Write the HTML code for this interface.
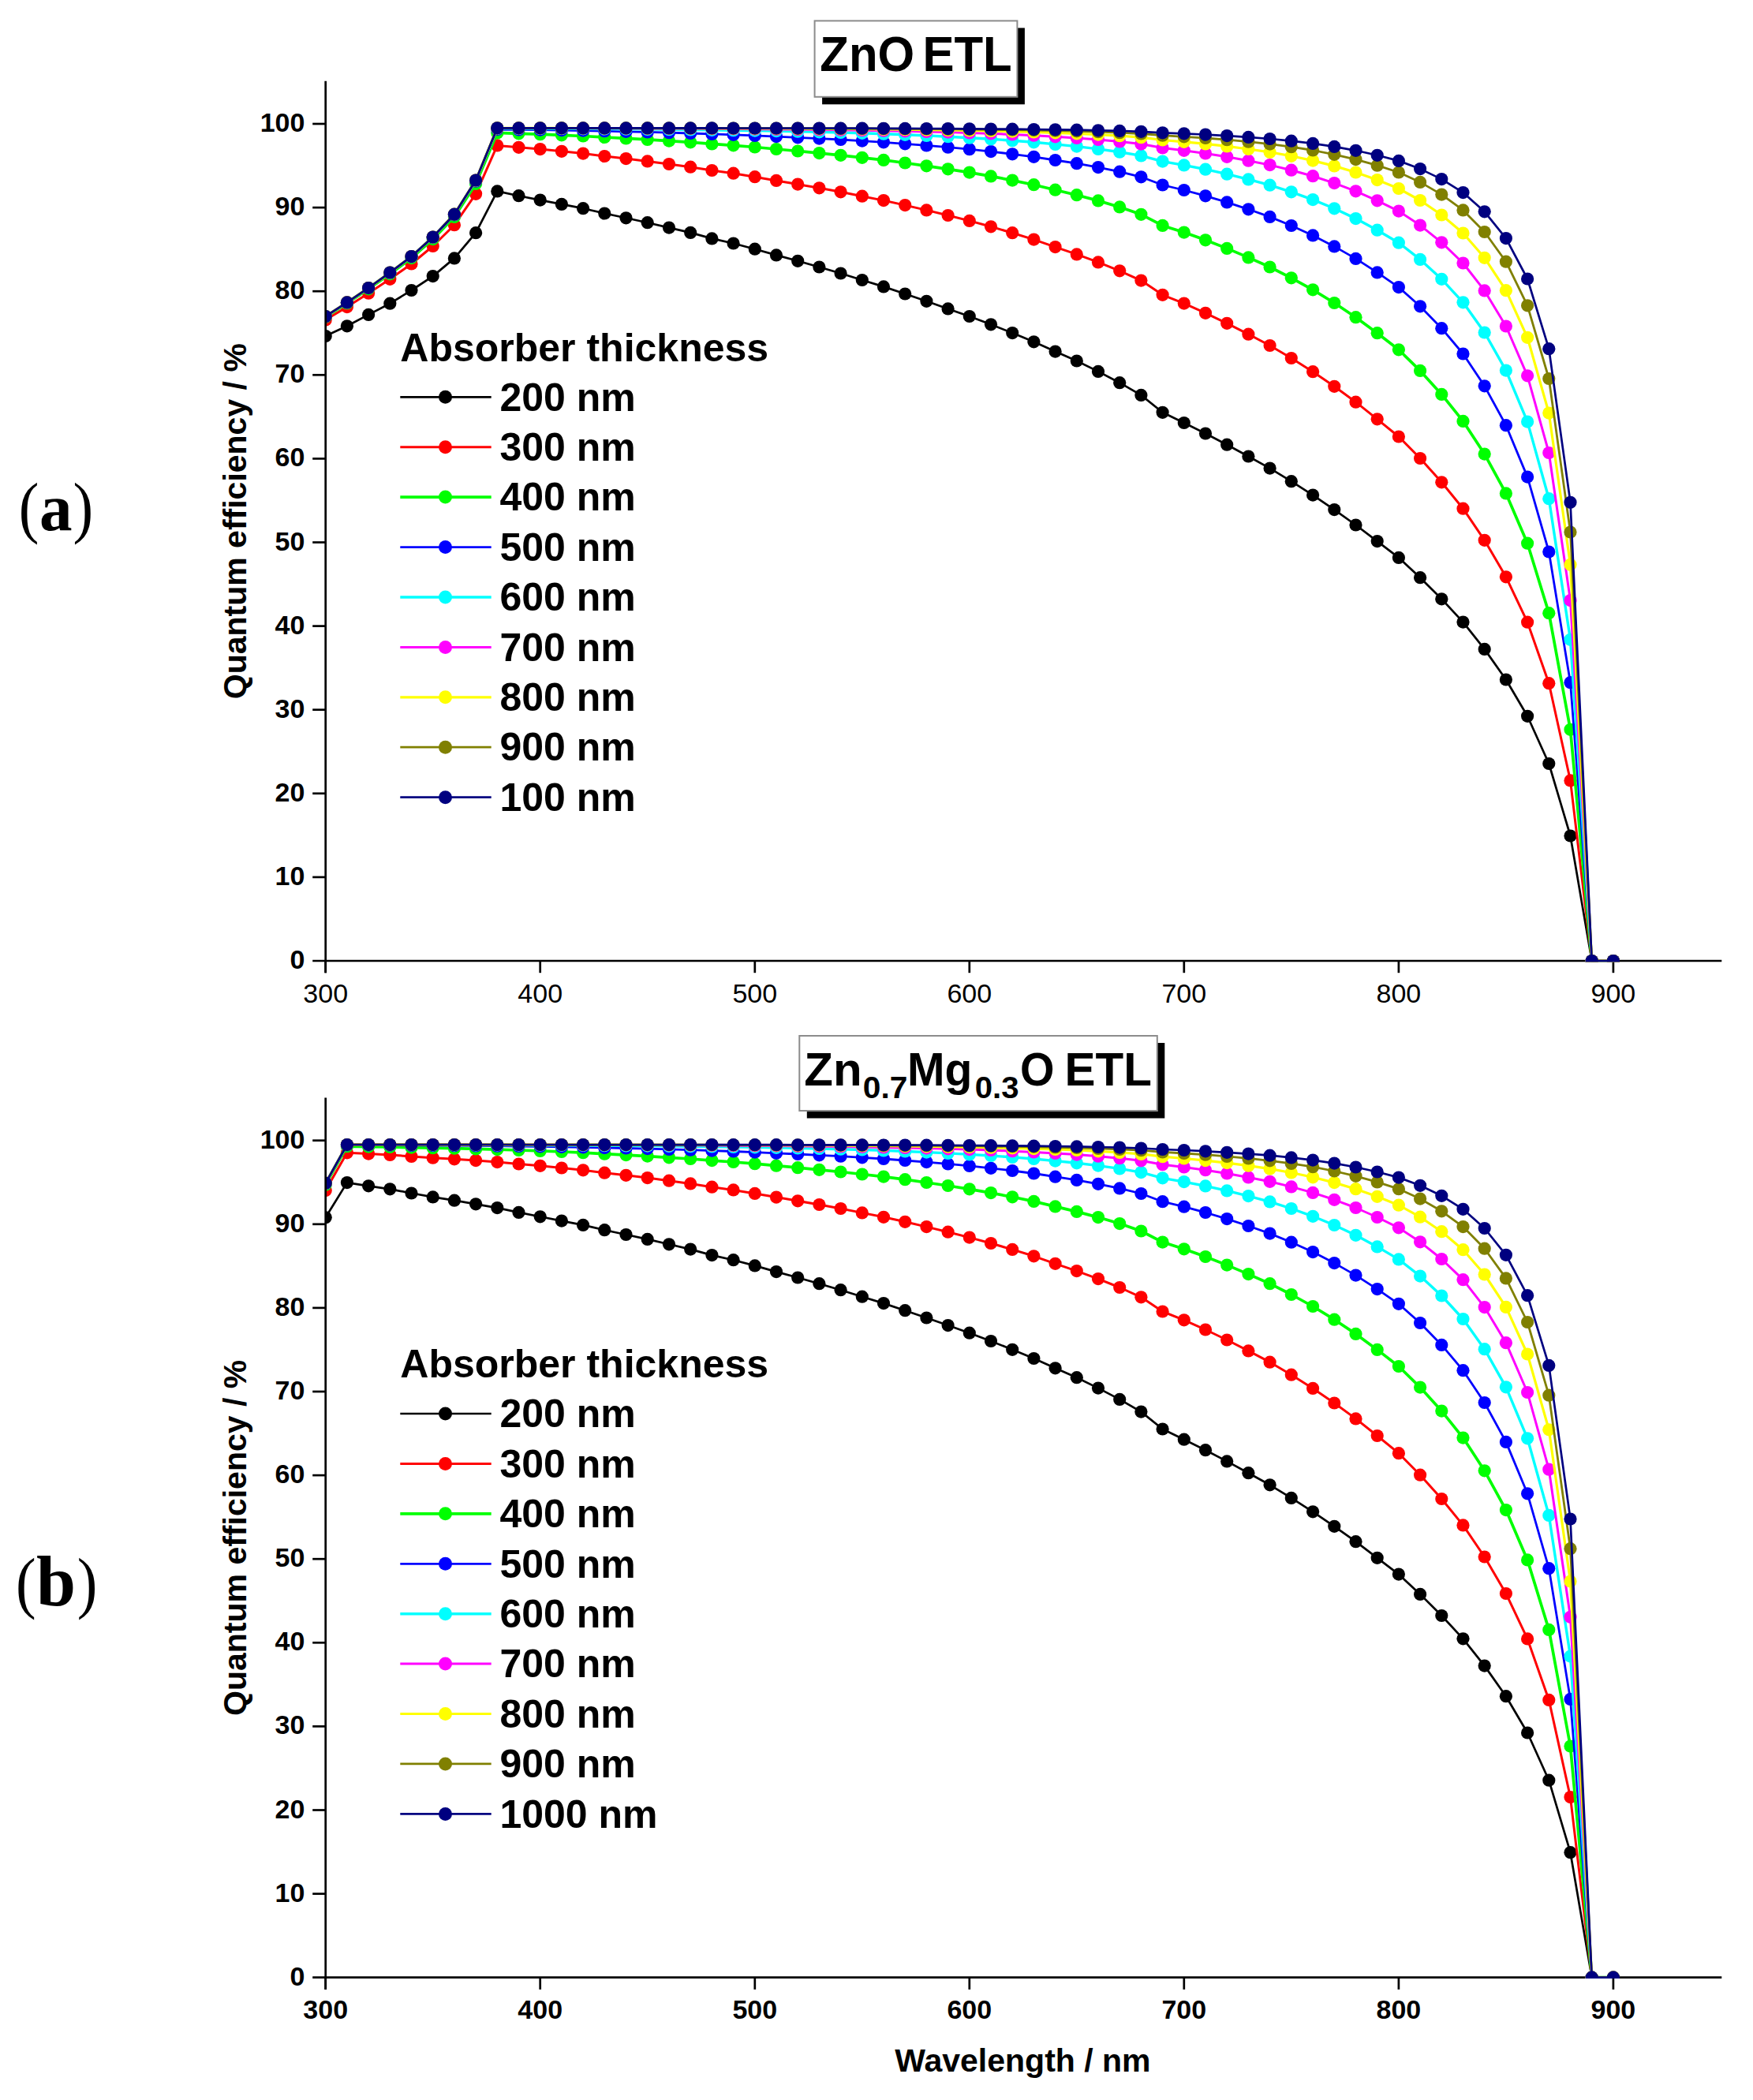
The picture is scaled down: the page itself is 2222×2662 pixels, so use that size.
<!DOCTYPE html>
<html><head><meta charset="utf-8"><title>Quantum efficiency vs wavelength</title>
<style>
html,body{margin:0;padding:0;background:#fff;}
body{width:2222px;height:2662px;overflow:hidden;}
svg{display:block;font-family:"Liberation Sans",Arial,Helvetica,sans-serif;}
</style></head><body>
<svg width="2222" height="2662" viewBox="0 0 2222 2662">
<rect width="2222" height="2662" fill="#fff"/>
<clipPath id="clipa"><rect x="414.05" y="82.8" width="1769.6" height="1136.55"/></clipPath>
<g stroke="#000" stroke-width="2.7" fill="none">
<line x1="396.2" y1="1218.0" x2="2182.3" y2="1218.0"/>
<line x1="412.7" y1="1218.0" x2="412.7" y2="1233.2"/>
<line x1="684.7" y1="1218.0" x2="684.7" y2="1233.2"/>
<line x1="956.8" y1="1218.0" x2="956.8" y2="1233.2"/>
<line x1="1228.8" y1="1218.0" x2="1228.8" y2="1233.2"/>
<line x1="1500.8" y1="1218.0" x2="1500.8" y2="1233.2"/>
<line x1="1772.9" y1="1218.0" x2="1772.9" y2="1233.2"/>
<line x1="2044.9" y1="1218.0" x2="2044.9" y2="1233.2"/>
</g>
<g clip-path="url(#clipa)">
<polyline points="412.7,425.9 439.9,413.3 467.1,398.9 494.3,384.7 521.5,368.0 548.7,350.1 575.9,327.4 603.1,295.2 630.3,242.4 657.5,248.2 684.7,253.6 711.9,258.9 739.1,264.2 766.3,270.5 793.5,276.3 820.7,282.2 848.0,288.6 875.2,294.9 902.4,302.4 929.6,308.5 956.8,315.7 984.0,323.4 1011.2,330.8 1038.4,338.5 1065.6,346.5 1092.8,355.0 1120.0,363.4 1147.2,372.5 1174.4,381.8 1201.6,391.4 1228.8,401.0 1256.0,411.3 1283.2,422.1 1310.4,433.3 1337.6,445.6 1364.8,457.5 1392.0,470.9 1419.2,485.2 1446.4,500.9 1473.6,522.8 1500.8,536.0 1528.0,549.5 1555.2,563.7 1582.4,578.5 1609.6,593.6 1636.8,610.2 1664.1,627.6 1691.3,646.1 1718.5,665.5 1745.7,686.1 1772.9,706.9 1800.1,732.2 1827.3,759.3 1854.5,788.6 1881.7,822.9 1908.9,861.5 1936.1,907.8 1963.3,968.0 1990.5,1059.5 2017.7,1218.0 2044.9,1218.0" fill="none" stroke="#000000" stroke-width="2.7" stroke-linejoin="round"/>
<g fill="#000000"><circle cx="412.7" cy="425.9" r="8.1"/><circle cx="439.9" cy="413.3" r="8.1"/><circle cx="467.1" cy="398.9" r="8.1"/><circle cx="494.3" cy="384.7" r="8.1"/><circle cx="521.5" cy="368.0" r="8.1"/><circle cx="548.7" cy="350.1" r="8.1"/><circle cx="575.9" cy="327.4" r="8.1"/><circle cx="603.1" cy="295.2" r="8.1"/><circle cx="630.3" cy="242.4" r="8.1"/><circle cx="657.5" cy="248.2" r="8.1"/><circle cx="684.7" cy="253.6" r="8.1"/><circle cx="711.9" cy="258.9" r="8.1"/><circle cx="739.1" cy="264.2" r="8.1"/><circle cx="766.3" cy="270.5" r="8.1"/><circle cx="793.5" cy="276.3" r="8.1"/><circle cx="820.7" cy="282.2" r="8.1"/><circle cx="848.0" cy="288.6" r="8.1"/><circle cx="875.2" cy="294.9" r="8.1"/><circle cx="902.4" cy="302.4" r="8.1"/><circle cx="929.6" cy="308.5" r="8.1"/><circle cx="956.8" cy="315.7" r="8.1"/><circle cx="984.0" cy="323.4" r="8.1"/><circle cx="1011.2" cy="330.8" r="8.1"/><circle cx="1038.4" cy="338.5" r="8.1"/><circle cx="1065.6" cy="346.5" r="8.1"/><circle cx="1092.8" cy="355.0" r="8.1"/><circle cx="1120.0" cy="363.4" r="8.1"/><circle cx="1147.2" cy="372.5" r="8.1"/><circle cx="1174.4" cy="381.8" r="8.1"/><circle cx="1201.6" cy="391.4" r="8.1"/><circle cx="1228.8" cy="401.0" r="8.1"/><circle cx="1256.0" cy="411.3" r="8.1"/><circle cx="1283.2" cy="422.1" r="8.1"/><circle cx="1310.4" cy="433.3" r="8.1"/><circle cx="1337.6" cy="445.6" r="8.1"/><circle cx="1364.8" cy="457.5" r="8.1"/><circle cx="1392.0" cy="470.9" r="8.1"/><circle cx="1419.2" cy="485.2" r="8.1"/><circle cx="1446.4" cy="500.9" r="8.1"/><circle cx="1473.6" cy="522.8" r="8.1"/><circle cx="1500.8" cy="536.0" r="8.1"/><circle cx="1528.0" cy="549.5" r="8.1"/><circle cx="1555.2" cy="563.7" r="8.1"/><circle cx="1582.4" cy="578.5" r="8.1"/><circle cx="1609.6" cy="593.6" r="8.1"/><circle cx="1636.8" cy="610.2" r="8.1"/><circle cx="1664.1" cy="627.6" r="8.1"/><circle cx="1691.3" cy="646.1" r="8.1"/><circle cx="1718.5" cy="665.5" r="8.1"/><circle cx="1745.7" cy="686.1" r="8.1"/><circle cx="1772.9" cy="706.9" r="8.1"/><circle cx="1800.1" cy="732.2" r="8.1"/><circle cx="1827.3" cy="759.3" r="8.1"/><circle cx="1854.5" cy="788.6" r="8.1"/><circle cx="1881.7" cy="822.9" r="8.1"/><circle cx="1908.9" cy="861.5" r="8.1"/><circle cx="1936.1" cy="907.8" r="8.1"/><circle cx="1963.3" cy="968.0" r="8.1"/><circle cx="1990.5" cy="1059.5" r="8.1"/><circle cx="2017.7" cy="1218.0" r="8.1"/><circle cx="2044.9" cy="1218.0" r="8.1"/></g>
<polyline points="412.7,405.4 439.9,389.1 467.1,371.7 494.3,353.8 521.5,334.5 548.7,312.0 575.9,285.2 603.1,245.8 630.3,184.4 657.5,186.8 684.7,189.1 711.9,191.8 739.1,194.6 766.3,198.0 793.5,201.1 820.7,204.4 848.0,208.0 875.2,211.7 902.4,216.0 929.6,219.7 956.8,224.2 984.0,228.9 1011.2,233.6 1038.4,238.3 1065.6,243.3 1092.8,248.7 1120.0,254.1 1147.2,260.1 1174.4,266.4 1201.6,273.0 1228.8,279.9 1256.0,287.3 1283.2,295.2 1310.4,303.6 1337.6,313.1 1364.8,322.4 1392.0,332.4 1419.2,343.3 1446.4,355.6 1473.6,373.8 1500.8,384.6 1528.0,396.8 1555.2,409.8 1582.4,423.7 1609.6,438.0 1636.8,454.0 1664.1,471.2 1691.3,489.8 1718.5,509.7 1745.7,531.3 1772.9,553.5 1800.1,581.0 1827.3,611.3 1854.5,644.7 1881.7,684.8 1908.9,731.3 1936.1,788.7 1963.3,866.2 1990.5,989.4 2017.7,1218.0 2044.9,1218.0" fill="none" stroke="#ff0000" stroke-width="3.0" stroke-linejoin="round"/>
<g fill="#ff0000"><circle cx="412.7" cy="405.4" r="8.1"/><circle cx="439.9" cy="389.1" r="8.1"/><circle cx="467.1" cy="371.7" r="8.1"/><circle cx="494.3" cy="353.8" r="8.1"/><circle cx="521.5" cy="334.5" r="8.1"/><circle cx="548.7" cy="312.0" r="8.1"/><circle cx="575.9" cy="285.2" r="8.1"/><circle cx="603.1" cy="245.8" r="8.1"/><circle cx="630.3" cy="184.4" r="8.1"/><circle cx="657.5" cy="186.8" r="8.1"/><circle cx="684.7" cy="189.1" r="8.1"/><circle cx="711.9" cy="191.8" r="8.1"/><circle cx="739.1" cy="194.6" r="8.1"/><circle cx="766.3" cy="198.0" r="8.1"/><circle cx="793.5" cy="201.1" r="8.1"/><circle cx="820.7" cy="204.4" r="8.1"/><circle cx="848.0" cy="208.0" r="8.1"/><circle cx="875.2" cy="211.7" r="8.1"/><circle cx="902.4" cy="216.0" r="8.1"/><circle cx="929.6" cy="219.7" r="8.1"/><circle cx="956.8" cy="224.2" r="8.1"/><circle cx="984.0" cy="228.9" r="8.1"/><circle cx="1011.2" cy="233.6" r="8.1"/><circle cx="1038.4" cy="238.3" r="8.1"/><circle cx="1065.6" cy="243.3" r="8.1"/><circle cx="1092.8" cy="248.7" r="8.1"/><circle cx="1120.0" cy="254.1" r="8.1"/><circle cx="1147.2" cy="260.1" r="8.1"/><circle cx="1174.4" cy="266.4" r="8.1"/><circle cx="1201.6" cy="273.0" r="8.1"/><circle cx="1228.8" cy="279.9" r="8.1"/><circle cx="1256.0" cy="287.3" r="8.1"/><circle cx="1283.2" cy="295.2" r="8.1"/><circle cx="1310.4" cy="303.6" r="8.1"/><circle cx="1337.6" cy="313.1" r="8.1"/><circle cx="1364.8" cy="322.4" r="8.1"/><circle cx="1392.0" cy="332.4" r="8.1"/><circle cx="1419.2" cy="343.3" r="8.1"/><circle cx="1446.4" cy="355.6" r="8.1"/><circle cx="1473.6" cy="373.8" r="8.1"/><circle cx="1500.8" cy="384.6" r="8.1"/><circle cx="1528.0" cy="396.8" r="8.1"/><circle cx="1555.2" cy="409.8" r="8.1"/><circle cx="1582.4" cy="423.7" r="8.1"/><circle cx="1609.6" cy="438.0" r="8.1"/><circle cx="1636.8" cy="454.0" r="8.1"/><circle cx="1664.1" cy="471.2" r="8.1"/><circle cx="1691.3" cy="489.8" r="8.1"/><circle cx="1718.5" cy="509.7" r="8.1"/><circle cx="1745.7" cy="531.3" r="8.1"/><circle cx="1772.9" cy="553.5" r="8.1"/><circle cx="1800.1" cy="581.0" r="8.1"/><circle cx="1827.3" cy="611.3" r="8.1"/><circle cx="1854.5" cy="644.7" r="8.1"/><circle cx="1881.7" cy="684.8" r="8.1"/><circle cx="1908.9" cy="731.3" r="8.1"/><circle cx="1936.1" cy="788.7" r="8.1"/><circle cx="1963.3" cy="866.2" r="8.1"/><circle cx="1990.5" cy="989.4" r="8.1"/><circle cx="2017.7" cy="1218.0" r="8.1"/><circle cx="2044.9" cy="1218.0" r="8.1"/></g>
<polyline points="412.7,401.8 439.9,384.5 467.1,366.3 494.3,347.3 521.5,327.1 548.7,303.1 575.9,275.0 603.1,233.0 630.3,168.4 657.5,169.3 684.7,170.2 711.9,171.3 739.1,172.5 766.3,174.0 793.5,175.4 820.7,176.9 848.0,178.6 875.2,180.3 902.4,182.4 929.6,184.3 956.8,186.5 984.0,189.0 1011.2,191.5 1038.4,194.1 1065.6,196.8 1092.8,199.8 1120.0,202.9 1147.2,206.5 1174.4,210.3 1201.6,214.3 1228.8,218.6 1256.0,223.4 1283.2,228.6 1310.4,234.2 1337.6,240.7 1364.8,247.2 1392.0,254.4 1419.2,262.4 1446.4,271.8 1473.6,285.9 1500.8,294.6 1528.0,304.3 1555.2,314.9 1582.4,326.4 1609.6,338.5 1636.8,352.3 1664.1,367.3 1691.3,384.0 1718.5,402.2 1745.7,422.2 1772.9,443.3 1800.1,469.9 1827.3,499.9 1854.5,533.9 1881.7,575.6 1908.9,625.4 1936.1,688.7 1963.3,777.2 1990.5,924.8 2017.7,1218.0 2044.9,1218.0" fill="none" stroke="#00ff00" stroke-width="3.7" stroke-linejoin="round"/>
<g fill="#00ff00"><circle cx="412.7" cy="401.8" r="8.1"/><circle cx="439.9" cy="384.5" r="8.1"/><circle cx="467.1" cy="366.3" r="8.1"/><circle cx="494.3" cy="347.3" r="8.1"/><circle cx="521.5" cy="327.1" r="8.1"/><circle cx="548.7" cy="303.1" r="8.1"/><circle cx="575.9" cy="275.0" r="8.1"/><circle cx="603.1" cy="233.0" r="8.1"/><circle cx="630.3" cy="168.4" r="8.1"/><circle cx="657.5" cy="169.3" r="8.1"/><circle cx="684.7" cy="170.2" r="8.1"/><circle cx="711.9" cy="171.3" r="8.1"/><circle cx="739.1" cy="172.5" r="8.1"/><circle cx="766.3" cy="174.0" r="8.1"/><circle cx="793.5" cy="175.4" r="8.1"/><circle cx="820.7" cy="176.9" r="8.1"/><circle cx="848.0" cy="178.6" r="8.1"/><circle cx="875.2" cy="180.3" r="8.1"/><circle cx="902.4" cy="182.4" r="8.1"/><circle cx="929.6" cy="184.3" r="8.1"/><circle cx="956.8" cy="186.5" r="8.1"/><circle cx="984.0" cy="189.0" r="8.1"/><circle cx="1011.2" cy="191.5" r="8.1"/><circle cx="1038.4" cy="194.1" r="8.1"/><circle cx="1065.6" cy="196.8" r="8.1"/><circle cx="1092.8" cy="199.8" r="8.1"/><circle cx="1120.0" cy="202.9" r="8.1"/><circle cx="1147.2" cy="206.5" r="8.1"/><circle cx="1174.4" cy="210.3" r="8.1"/><circle cx="1201.6" cy="214.3" r="8.1"/><circle cx="1228.8" cy="218.6" r="8.1"/><circle cx="1256.0" cy="223.4" r="8.1"/><circle cx="1283.2" cy="228.6" r="8.1"/><circle cx="1310.4" cy="234.2" r="8.1"/><circle cx="1337.6" cy="240.7" r="8.1"/><circle cx="1364.8" cy="247.2" r="8.1"/><circle cx="1392.0" cy="254.4" r="8.1"/><circle cx="1419.2" cy="262.4" r="8.1"/><circle cx="1446.4" cy="271.8" r="8.1"/><circle cx="1473.6" cy="285.9" r="8.1"/><circle cx="1500.8" cy="294.6" r="8.1"/><circle cx="1528.0" cy="304.3" r="8.1"/><circle cx="1555.2" cy="314.9" r="8.1"/><circle cx="1582.4" cy="326.4" r="8.1"/><circle cx="1609.6" cy="338.5" r="8.1"/><circle cx="1636.8" cy="352.3" r="8.1"/><circle cx="1664.1" cy="367.3" r="8.1"/><circle cx="1691.3" cy="384.0" r="8.1"/><circle cx="1718.5" cy="402.2" r="8.1"/><circle cx="1745.7" cy="422.2" r="8.1"/><circle cx="1772.9" cy="443.3" r="8.1"/><circle cx="1800.1" cy="469.9" r="8.1"/><circle cx="1827.3" cy="499.9" r="8.1"/><circle cx="1854.5" cy="533.9" r="8.1"/><circle cx="1881.7" cy="575.6" r="8.1"/><circle cx="1908.9" cy="625.4" r="8.1"/><circle cx="1936.1" cy="688.7" r="8.1"/><circle cx="1963.3" cy="777.2" r="8.1"/><circle cx="1990.5" cy="924.8" r="8.1"/><circle cx="2017.7" cy="1218.0" r="8.1"/><circle cx="2044.9" cy="1218.0" r="8.1"/></g>
<polyline points="412.7,401.2 439.9,383.6 467.1,365.2 494.3,345.9 521.5,325.5 548.7,301.1 575.9,272.5 603.1,229.7 630.3,164.0 657.5,164.3 684.7,164.6 711.9,165.1 739.1,165.6 766.3,166.2 793.5,166.8 820.7,167.4 848.0,168.2 875.2,169.0 902.4,169.9 929.6,170.8 956.8,171.9 984.0,173.1 1011.2,174.3 1038.4,175.6 1065.6,177.0 1092.8,178.6 1120.0,180.3 1147.2,182.3 1174.4,184.4 1201.6,186.7 1228.8,189.2 1256.0,192.1 1283.2,195.3 1310.4,198.8 1337.6,203.0 1364.8,207.2 1392.0,212.1 1419.2,217.7 1446.4,224.3 1473.6,234.5 1500.8,241.0 1528.0,248.3 1555.2,256.4 1582.4,265.3 1609.6,274.9 1636.8,286.0 1664.1,298.4 1691.3,312.4 1718.5,327.9 1745.7,345.4 1772.9,364.1 1800.1,388.3 1827.3,416.2 1854.5,448.5 1881.7,489.3 1908.9,539.2 1936.1,604.6 1963.3,699.5 1990.5,865.2 2017.7,1218.0 2044.9,1218.0" fill="none" stroke="#0000ff" stroke-width="2.8" stroke-linejoin="round"/>
<g fill="#0000ff"><circle cx="412.7" cy="401.2" r="8.1"/><circle cx="439.9" cy="383.6" r="8.1"/><circle cx="467.1" cy="365.2" r="8.1"/><circle cx="494.3" cy="345.9" r="8.1"/><circle cx="521.5" cy="325.5" r="8.1"/><circle cx="548.7" cy="301.1" r="8.1"/><circle cx="575.9" cy="272.5" r="8.1"/><circle cx="603.1" cy="229.7" r="8.1"/><circle cx="630.3" cy="164.0" r="8.1"/><circle cx="657.5" cy="164.3" r="8.1"/><circle cx="684.7" cy="164.6" r="8.1"/><circle cx="711.9" cy="165.1" r="8.1"/><circle cx="739.1" cy="165.6" r="8.1"/><circle cx="766.3" cy="166.2" r="8.1"/><circle cx="793.5" cy="166.8" r="8.1"/><circle cx="820.7" cy="167.4" r="8.1"/><circle cx="848.0" cy="168.2" r="8.1"/><circle cx="875.2" cy="169.0" r="8.1"/><circle cx="902.4" cy="169.9" r="8.1"/><circle cx="929.6" cy="170.8" r="8.1"/><circle cx="956.8" cy="171.9" r="8.1"/><circle cx="984.0" cy="173.1" r="8.1"/><circle cx="1011.2" cy="174.3" r="8.1"/><circle cx="1038.4" cy="175.6" r="8.1"/><circle cx="1065.6" cy="177.0" r="8.1"/><circle cx="1092.8" cy="178.6" r="8.1"/><circle cx="1120.0" cy="180.3" r="8.1"/><circle cx="1147.2" cy="182.3" r="8.1"/><circle cx="1174.4" cy="184.4" r="8.1"/><circle cx="1201.6" cy="186.7" r="8.1"/><circle cx="1228.8" cy="189.2" r="8.1"/><circle cx="1256.0" cy="192.1" r="8.1"/><circle cx="1283.2" cy="195.3" r="8.1"/><circle cx="1310.4" cy="198.8" r="8.1"/><circle cx="1337.6" cy="203.0" r="8.1"/><circle cx="1364.8" cy="207.2" r="8.1"/><circle cx="1392.0" cy="212.1" r="8.1"/><circle cx="1419.2" cy="217.7" r="8.1"/><circle cx="1446.4" cy="224.3" r="8.1"/><circle cx="1473.6" cy="234.5" r="8.1"/><circle cx="1500.8" cy="241.0" r="8.1"/><circle cx="1528.0" cy="248.3" r="8.1"/><circle cx="1555.2" cy="256.4" r="8.1"/><circle cx="1582.4" cy="265.3" r="8.1"/><circle cx="1609.6" cy="274.9" r="8.1"/><circle cx="1636.8" cy="286.0" r="8.1"/><circle cx="1664.1" cy="298.4" r="8.1"/><circle cx="1691.3" cy="312.4" r="8.1"/><circle cx="1718.5" cy="327.9" r="8.1"/><circle cx="1745.7" cy="345.4" r="8.1"/><circle cx="1772.9" cy="364.1" r="8.1"/><circle cx="1800.1" cy="388.3" r="8.1"/><circle cx="1827.3" cy="416.2" r="8.1"/><circle cx="1854.5" cy="448.5" r="8.1"/><circle cx="1881.7" cy="489.3" r="8.1"/><circle cx="1908.9" cy="539.2" r="8.1"/><circle cx="1936.1" cy="604.6" r="8.1"/><circle cx="1963.3" cy="699.5" r="8.1"/><circle cx="1990.5" cy="865.2" r="8.1"/><circle cx="2017.7" cy="1218.0" r="8.1"/><circle cx="2044.9" cy="1218.0" r="8.1"/></g>
<polyline points="412.7,401.1 439.9,383.5 467.1,365.0 494.3,345.6 521.5,325.2 548.7,300.6 575.9,271.9 603.1,228.8 630.3,162.8 657.5,162.9 684.7,163.0 711.9,163.1 739.1,163.3 766.3,163.5 793.5,163.7 820.7,163.9 848.0,164.2 875.2,164.5 902.4,164.8 929.6,165.2 956.8,165.6 984.0,166.1 1011.2,166.7 1038.4,167.3 1065.6,168.0 1092.8,168.8 1120.0,169.7 1147.2,170.8 1174.4,171.9 1201.6,173.2 1228.8,174.7 1256.0,176.3 1283.2,178.2 1310.4,180.3 1337.6,182.9 1364.8,185.6 1392.0,188.9 1419.2,192.7 1446.4,197.4 1473.6,204.6 1500.8,209.4 1528.0,214.7 1555.2,220.7 1582.4,227.4 1609.6,234.7 1636.8,243.3 1664.1,253.1 1691.3,264.3 1718.5,277.1 1745.7,291.7 1772.9,307.7 1800.1,328.9 1827.3,353.8 1854.5,383.3 1881.7,421.5 1908.9,469.6 1936.1,534.6 1963.3,632.2 1990.5,810.8 2017.7,1218.0 2044.9,1218.0" fill="none" stroke="#00ffff" stroke-width="3.4" stroke-linejoin="round"/>
<g fill="#00ffff"><circle cx="412.7" cy="401.1" r="8.1"/><circle cx="439.9" cy="383.5" r="8.1"/><circle cx="467.1" cy="365.0" r="8.1"/><circle cx="494.3" cy="345.6" r="8.1"/><circle cx="521.5" cy="325.2" r="8.1"/><circle cx="548.7" cy="300.6" r="8.1"/><circle cx="575.9" cy="271.9" r="8.1"/><circle cx="603.1" cy="228.8" r="8.1"/><circle cx="630.3" cy="162.8" r="8.1"/><circle cx="657.5" cy="162.9" r="8.1"/><circle cx="684.7" cy="163.0" r="8.1"/><circle cx="711.9" cy="163.1" r="8.1"/><circle cx="739.1" cy="163.3" r="8.1"/><circle cx="766.3" cy="163.5" r="8.1"/><circle cx="793.5" cy="163.7" r="8.1"/><circle cx="820.7" cy="163.9" r="8.1"/><circle cx="848.0" cy="164.2" r="8.1"/><circle cx="875.2" cy="164.5" r="8.1"/><circle cx="902.4" cy="164.8" r="8.1"/><circle cx="929.6" cy="165.2" r="8.1"/><circle cx="956.8" cy="165.6" r="8.1"/><circle cx="984.0" cy="166.1" r="8.1"/><circle cx="1011.2" cy="166.7" r="8.1"/><circle cx="1038.4" cy="167.3" r="8.1"/><circle cx="1065.6" cy="168.0" r="8.1"/><circle cx="1092.8" cy="168.8" r="8.1"/><circle cx="1120.0" cy="169.7" r="8.1"/><circle cx="1147.2" cy="170.8" r="8.1"/><circle cx="1174.4" cy="171.9" r="8.1"/><circle cx="1201.6" cy="173.2" r="8.1"/><circle cx="1228.8" cy="174.7" r="8.1"/><circle cx="1256.0" cy="176.3" r="8.1"/><circle cx="1283.2" cy="178.2" r="8.1"/><circle cx="1310.4" cy="180.3" r="8.1"/><circle cx="1337.6" cy="182.9" r="8.1"/><circle cx="1364.8" cy="185.6" r="8.1"/><circle cx="1392.0" cy="188.9" r="8.1"/><circle cx="1419.2" cy="192.7" r="8.1"/><circle cx="1446.4" cy="197.4" r="8.1"/><circle cx="1473.6" cy="204.6" r="8.1"/><circle cx="1500.8" cy="209.4" r="8.1"/><circle cx="1528.0" cy="214.7" r="8.1"/><circle cx="1555.2" cy="220.7" r="8.1"/><circle cx="1582.4" cy="227.4" r="8.1"/><circle cx="1609.6" cy="234.7" r="8.1"/><circle cx="1636.8" cy="243.3" r="8.1"/><circle cx="1664.1" cy="253.1" r="8.1"/><circle cx="1691.3" cy="264.3" r="8.1"/><circle cx="1718.5" cy="277.1" r="8.1"/><circle cx="1745.7" cy="291.7" r="8.1"/><circle cx="1772.9" cy="307.7" r="8.1"/><circle cx="1800.1" cy="328.9" r="8.1"/><circle cx="1827.3" cy="353.8" r="8.1"/><circle cx="1854.5" cy="383.3" r="8.1"/><circle cx="1881.7" cy="421.5" r="8.1"/><circle cx="1908.9" cy="469.6" r="8.1"/><circle cx="1936.1" cy="534.6" r="8.1"/><circle cx="1963.3" cy="632.2" r="8.1"/><circle cx="1990.5" cy="810.8" r="8.1"/><circle cx="2017.7" cy="1218.0" r="8.1"/><circle cx="2044.9" cy="1218.0" r="8.1"/></g>
<polyline points="412.7,401.0 439.9,383.4 467.1,365.0 494.3,345.6 521.5,325.1 548.7,300.5 575.9,271.8 603.1,228.6 630.3,162.5 657.5,162.5 684.7,162.6 711.9,162.6 739.1,162.7 766.3,162.7 793.5,162.8 820.7,162.9 848.0,163.0 875.2,163.1 902.4,163.3 929.6,163.5 956.8,163.7 984.0,163.9 1011.2,164.2 1038.4,164.5 1065.6,164.8 1092.8,165.2 1120.0,165.7 1147.2,166.3 1174.4,166.9 1201.6,167.6 1228.8,168.4 1256.0,169.3 1283.2,170.5 1310.4,171.7 1337.6,173.3 1364.8,174.9 1392.0,177.0 1419.2,179.5 1446.4,182.6 1473.6,187.5 1500.8,190.8 1528.0,194.5 1555.2,198.8 1582.4,203.7 1609.6,209.1 1636.8,215.7 1664.1,223.2 1691.3,232.1 1718.5,242.3 1745.7,254.3 1772.9,267.6 1800.1,285.6 1827.3,307.3 1854.5,333.5 1881.7,368.4 1908.9,413.5 1936.1,476.3 1963.3,574.0 1990.5,761.1 2017.7,1218.0 2044.9,1218.0" fill="none" stroke="#ff00ff" stroke-width="3.0" stroke-linejoin="round"/>
<g fill="#ff00ff"><circle cx="412.7" cy="401.0" r="8.1"/><circle cx="439.9" cy="383.4" r="8.1"/><circle cx="467.1" cy="365.0" r="8.1"/><circle cx="494.3" cy="345.6" r="8.1"/><circle cx="521.5" cy="325.1" r="8.1"/><circle cx="548.7" cy="300.5" r="8.1"/><circle cx="575.9" cy="271.8" r="8.1"/><circle cx="603.1" cy="228.6" r="8.1"/><circle cx="630.3" cy="162.5" r="8.1"/><circle cx="657.5" cy="162.5" r="8.1"/><circle cx="684.7" cy="162.6" r="8.1"/><circle cx="711.9" cy="162.6" r="8.1"/><circle cx="739.1" cy="162.7" r="8.1"/><circle cx="766.3" cy="162.7" r="8.1"/><circle cx="793.5" cy="162.8" r="8.1"/><circle cx="820.7" cy="162.9" r="8.1"/><circle cx="848.0" cy="163.0" r="8.1"/><circle cx="875.2" cy="163.1" r="8.1"/><circle cx="902.4" cy="163.3" r="8.1"/><circle cx="929.6" cy="163.5" r="8.1"/><circle cx="956.8" cy="163.7" r="8.1"/><circle cx="984.0" cy="163.9" r="8.1"/><circle cx="1011.2" cy="164.2" r="8.1"/><circle cx="1038.4" cy="164.5" r="8.1"/><circle cx="1065.6" cy="164.8" r="8.1"/><circle cx="1092.8" cy="165.2" r="8.1"/><circle cx="1120.0" cy="165.7" r="8.1"/><circle cx="1147.2" cy="166.3" r="8.1"/><circle cx="1174.4" cy="166.9" r="8.1"/><circle cx="1201.6" cy="167.6" r="8.1"/><circle cx="1228.8" cy="168.4" r="8.1"/><circle cx="1256.0" cy="169.3" r="8.1"/><circle cx="1283.2" cy="170.5" r="8.1"/><circle cx="1310.4" cy="171.7" r="8.1"/><circle cx="1337.6" cy="173.3" r="8.1"/><circle cx="1364.8" cy="174.9" r="8.1"/><circle cx="1392.0" cy="177.0" r="8.1"/><circle cx="1419.2" cy="179.5" r="8.1"/><circle cx="1446.4" cy="182.6" r="8.1"/><circle cx="1473.6" cy="187.5" r="8.1"/><circle cx="1500.8" cy="190.8" r="8.1"/><circle cx="1528.0" cy="194.5" r="8.1"/><circle cx="1555.2" cy="198.8" r="8.1"/><circle cx="1582.4" cy="203.7" r="8.1"/><circle cx="1609.6" cy="209.1" r="8.1"/><circle cx="1636.8" cy="215.7" r="8.1"/><circle cx="1664.1" cy="223.2" r="8.1"/><circle cx="1691.3" cy="232.1" r="8.1"/><circle cx="1718.5" cy="242.3" r="8.1"/><circle cx="1745.7" cy="254.3" r="8.1"/><circle cx="1772.9" cy="267.6" r="8.1"/><circle cx="1800.1" cy="285.6" r="8.1"/><circle cx="1827.3" cy="307.3" r="8.1"/><circle cx="1854.5" cy="333.5" r="8.1"/><circle cx="1881.7" cy="368.4" r="8.1"/><circle cx="1908.9" cy="413.5" r="8.1"/><circle cx="1936.1" cy="476.3" r="8.1"/><circle cx="1963.3" cy="574.0" r="8.1"/><circle cx="1990.5" cy="761.1" r="8.1"/><circle cx="2017.7" cy="1218.0" r="8.1"/><circle cx="2044.9" cy="1218.0" r="8.1"/></g>
<polyline points="412.7,401.0 439.9,383.4 467.1,365.0 494.3,345.6 521.5,325.1 548.7,300.5 575.9,271.7 603.1,228.6 630.3,162.4 657.5,162.4 684.7,162.4 711.9,162.4 739.1,162.5 766.3,162.5 793.5,162.5 820.7,162.6 848.0,162.6 875.2,162.7 902.4,162.8 929.6,162.8 956.8,162.9 984.0,163.0 1011.2,163.2 1038.4,163.3 1065.6,163.5 1092.8,163.7 1120.0,163.9 1147.2,164.2 1174.4,164.6 1201.6,165.0 1228.8,165.4 1256.0,166.0 1283.2,166.6 1310.4,167.4 1337.6,168.3 1364.8,169.3 1392.0,170.6 1419.2,172.2 1446.4,174.2 1473.6,177.5 1500.8,179.8 1528.0,182.4 1555.2,185.4 1582.4,189.0 1609.6,192.9 1636.8,197.8 1664.1,203.6 1691.3,210.4 1718.5,218.5 1745.7,228.1 1772.9,239.0 1800.1,254.0 1827.3,272.5 1854.5,295.5 1881.7,326.8 1908.9,368.2 1936.1,427.8 1963.3,523.6 1990.5,715.8 2017.7,1218.0 2044.9,1218.0" fill="none" stroke="#ffff00" stroke-width="3.2" stroke-linejoin="round"/>
<g fill="#ffff00"><circle cx="412.7" cy="401.0" r="8.1"/><circle cx="439.9" cy="383.4" r="8.1"/><circle cx="467.1" cy="365.0" r="8.1"/><circle cx="494.3" cy="345.6" r="8.1"/><circle cx="521.5" cy="325.1" r="8.1"/><circle cx="548.7" cy="300.5" r="8.1"/><circle cx="575.9" cy="271.7" r="8.1"/><circle cx="603.1" cy="228.6" r="8.1"/><circle cx="630.3" cy="162.4" r="8.1"/><circle cx="657.5" cy="162.4" r="8.1"/><circle cx="684.7" cy="162.4" r="8.1"/><circle cx="711.9" cy="162.4" r="8.1"/><circle cx="739.1" cy="162.5" r="8.1"/><circle cx="766.3" cy="162.5" r="8.1"/><circle cx="793.5" cy="162.5" r="8.1"/><circle cx="820.7" cy="162.6" r="8.1"/><circle cx="848.0" cy="162.6" r="8.1"/><circle cx="875.2" cy="162.7" r="8.1"/><circle cx="902.4" cy="162.8" r="8.1"/><circle cx="929.6" cy="162.8" r="8.1"/><circle cx="956.8" cy="162.9" r="8.1"/><circle cx="984.0" cy="163.0" r="8.1"/><circle cx="1011.2" cy="163.2" r="8.1"/><circle cx="1038.4" cy="163.3" r="8.1"/><circle cx="1065.6" cy="163.5" r="8.1"/><circle cx="1092.8" cy="163.7" r="8.1"/><circle cx="1120.0" cy="163.9" r="8.1"/><circle cx="1147.2" cy="164.2" r="8.1"/><circle cx="1174.4" cy="164.6" r="8.1"/><circle cx="1201.6" cy="165.0" r="8.1"/><circle cx="1228.8" cy="165.4" r="8.1"/><circle cx="1256.0" cy="166.0" r="8.1"/><circle cx="1283.2" cy="166.6" r="8.1"/><circle cx="1310.4" cy="167.4" r="8.1"/><circle cx="1337.6" cy="168.3" r="8.1"/><circle cx="1364.8" cy="169.3" r="8.1"/><circle cx="1392.0" cy="170.6" r="8.1"/><circle cx="1419.2" cy="172.2" r="8.1"/><circle cx="1446.4" cy="174.2" r="8.1"/><circle cx="1473.6" cy="177.5" r="8.1"/><circle cx="1500.8" cy="179.8" r="8.1"/><circle cx="1528.0" cy="182.4" r="8.1"/><circle cx="1555.2" cy="185.4" r="8.1"/><circle cx="1582.4" cy="189.0" r="8.1"/><circle cx="1609.6" cy="192.9" r="8.1"/><circle cx="1636.8" cy="197.8" r="8.1"/><circle cx="1664.1" cy="203.6" r="8.1"/><circle cx="1691.3" cy="210.4" r="8.1"/><circle cx="1718.5" cy="218.5" r="8.1"/><circle cx="1745.7" cy="228.1" r="8.1"/><circle cx="1772.9" cy="239.0" r="8.1"/><circle cx="1800.1" cy="254.0" r="8.1"/><circle cx="1827.3" cy="272.5" r="8.1"/><circle cx="1854.5" cy="295.5" r="8.1"/><circle cx="1881.7" cy="326.8" r="8.1"/><circle cx="1908.9" cy="368.2" r="8.1"/><circle cx="1936.1" cy="427.8" r="8.1"/><circle cx="1963.3" cy="523.6" r="8.1"/><circle cx="1990.5" cy="715.8" r="8.1"/><circle cx="2017.7" cy="1218.0" r="8.1"/><circle cx="2044.9" cy="1218.0" r="8.1"/></g>
<polyline points="412.7,401.0 439.9,383.4 467.1,365.0 494.3,345.5 521.5,325.1 548.7,300.5 575.9,271.7 603.1,228.5 630.3,162.3 657.5,162.4 684.7,162.4 711.9,162.4 739.1,162.4 766.3,162.4 793.5,162.4 820.7,162.4 848.0,162.5 875.2,162.5 902.4,162.5 929.6,162.6 956.8,162.6 984.0,162.7 1011.2,162.7 1038.4,162.8 1065.6,162.9 1092.8,163.0 1120.0,163.2 1147.2,163.3 1174.4,163.5 1201.6,163.7 1228.8,164.0 1256.0,164.3 1283.2,164.7 1310.4,165.1 1337.6,165.7 1364.8,166.3 1392.0,167.2 1419.2,168.2 1446.4,169.5 1473.6,171.7 1500.8,173.3 1528.0,175.0 1555.2,177.2 1582.4,179.7 1609.6,182.6 1636.8,186.2 1664.1,190.5 1691.3,195.8 1718.5,202.1 1745.7,209.7 1772.9,218.5 1800.1,230.9 1827.3,246.6 1854.5,266.4 1881.7,294.0 1908.9,331.7 1936.1,387.3 1963.3,480.0 1990.5,674.5 2017.7,1218.0 2044.9,1218.0" fill="none" stroke="#808000" stroke-width="2.8" stroke-linejoin="round"/>
<g fill="#808000"><circle cx="412.7" cy="401.0" r="8.1"/><circle cx="439.9" cy="383.4" r="8.1"/><circle cx="467.1" cy="365.0" r="8.1"/><circle cx="494.3" cy="345.5" r="8.1"/><circle cx="521.5" cy="325.1" r="8.1"/><circle cx="548.7" cy="300.5" r="8.1"/><circle cx="575.9" cy="271.7" r="8.1"/><circle cx="603.1" cy="228.5" r="8.1"/><circle cx="630.3" cy="162.3" r="8.1"/><circle cx="657.5" cy="162.4" r="8.1"/><circle cx="684.7" cy="162.4" r="8.1"/><circle cx="711.9" cy="162.4" r="8.1"/><circle cx="739.1" cy="162.4" r="8.1"/><circle cx="766.3" cy="162.4" r="8.1"/><circle cx="793.5" cy="162.4" r="8.1"/><circle cx="820.7" cy="162.4" r="8.1"/><circle cx="848.0" cy="162.5" r="8.1"/><circle cx="875.2" cy="162.5" r="8.1"/><circle cx="902.4" cy="162.5" r="8.1"/><circle cx="929.6" cy="162.6" r="8.1"/><circle cx="956.8" cy="162.6" r="8.1"/><circle cx="984.0" cy="162.7" r="8.1"/><circle cx="1011.2" cy="162.7" r="8.1"/><circle cx="1038.4" cy="162.8" r="8.1"/><circle cx="1065.6" cy="162.9" r="8.1"/><circle cx="1092.8" cy="163.0" r="8.1"/><circle cx="1120.0" cy="163.2" r="8.1"/><circle cx="1147.2" cy="163.3" r="8.1"/><circle cx="1174.4" cy="163.5" r="8.1"/><circle cx="1201.6" cy="163.7" r="8.1"/><circle cx="1228.8" cy="164.0" r="8.1"/><circle cx="1256.0" cy="164.3" r="8.1"/><circle cx="1283.2" cy="164.7" r="8.1"/><circle cx="1310.4" cy="165.1" r="8.1"/><circle cx="1337.6" cy="165.7" r="8.1"/><circle cx="1364.8" cy="166.3" r="8.1"/><circle cx="1392.0" cy="167.2" r="8.1"/><circle cx="1419.2" cy="168.2" r="8.1"/><circle cx="1446.4" cy="169.5" r="8.1"/><circle cx="1473.6" cy="171.7" r="8.1"/><circle cx="1500.8" cy="173.3" r="8.1"/><circle cx="1528.0" cy="175.0" r="8.1"/><circle cx="1555.2" cy="177.2" r="8.1"/><circle cx="1582.4" cy="179.7" r="8.1"/><circle cx="1609.6" cy="182.6" r="8.1"/><circle cx="1636.8" cy="186.2" r="8.1"/><circle cx="1664.1" cy="190.5" r="8.1"/><circle cx="1691.3" cy="195.8" r="8.1"/><circle cx="1718.5" cy="202.1" r="8.1"/><circle cx="1745.7" cy="209.7" r="8.1"/><circle cx="1772.9" cy="218.5" r="8.1"/><circle cx="1800.1" cy="230.9" r="8.1"/><circle cx="1827.3" cy="246.6" r="8.1"/><circle cx="1854.5" cy="266.4" r="8.1"/><circle cx="1881.7" cy="294.0" r="8.1"/><circle cx="1908.9" cy="331.7" r="8.1"/><circle cx="1936.1" cy="387.3" r="8.1"/><circle cx="1963.3" cy="480.0" r="8.1"/><circle cx="1990.5" cy="674.5" r="8.1"/><circle cx="2017.7" cy="1218.0" r="8.1"/><circle cx="2044.9" cy="1218.0" r="8.1"/></g>
<polyline points="412.7,401.0 439.9,383.4 467.1,365.0 494.3,345.5 521.5,325.1 548.7,300.5 575.9,271.7 603.1,228.5 630.3,162.3 657.5,162.3 684.7,162.3 711.9,162.3 739.1,162.4 766.3,162.4 793.5,162.4 820.7,162.4 848.0,162.4 875.2,162.4 902.4,162.4 929.6,162.5 956.8,162.5 984.0,162.5 1011.2,162.6 1038.4,162.6 1065.6,162.7 1092.8,162.7 1120.0,162.8 1147.2,162.9 1174.4,163.0 1201.6,163.1 1228.8,163.3 1256.0,163.5 1283.2,163.7 1310.4,164.0 1337.6,164.3 1364.8,164.7 1392.0,165.3 1419.2,165.9 1446.4,166.8 1473.6,168.3 1500.8,169.3 1528.0,170.6 1555.2,172.1 1582.4,173.9 1609.6,176.0 1636.8,178.7 1664.1,181.9 1691.3,185.9 1718.5,190.8 1745.7,196.8 1772.9,203.9 1800.1,214.1 1827.3,227.1 1854.5,244.1 1881.7,268.3 1908.9,302.1 1936.1,353.5 1963.3,442.2 1990.5,636.8 2017.7,1218.0 2044.9,1218.0" fill="none" stroke="#000080" stroke-width="2.7" stroke-linejoin="round"/>
<g fill="#000080"><circle cx="412.7" cy="401.0" r="8.1"/><circle cx="439.9" cy="383.4" r="8.1"/><circle cx="467.1" cy="365.0" r="8.1"/><circle cx="494.3" cy="345.5" r="8.1"/><circle cx="521.5" cy="325.1" r="8.1"/><circle cx="548.7" cy="300.5" r="8.1"/><circle cx="575.9" cy="271.7" r="8.1"/><circle cx="603.1" cy="228.5" r="8.1"/><circle cx="630.3" cy="162.3" r="8.1"/><circle cx="657.5" cy="162.3" r="8.1"/><circle cx="684.7" cy="162.3" r="8.1"/><circle cx="711.9" cy="162.3" r="8.1"/><circle cx="739.1" cy="162.4" r="8.1"/><circle cx="766.3" cy="162.4" r="8.1"/><circle cx="793.5" cy="162.4" r="8.1"/><circle cx="820.7" cy="162.4" r="8.1"/><circle cx="848.0" cy="162.4" r="8.1"/><circle cx="875.2" cy="162.4" r="8.1"/><circle cx="902.4" cy="162.4" r="8.1"/><circle cx="929.6" cy="162.5" r="8.1"/><circle cx="956.8" cy="162.5" r="8.1"/><circle cx="984.0" cy="162.5" r="8.1"/><circle cx="1011.2" cy="162.6" r="8.1"/><circle cx="1038.4" cy="162.6" r="8.1"/><circle cx="1065.6" cy="162.7" r="8.1"/><circle cx="1092.8" cy="162.7" r="8.1"/><circle cx="1120.0" cy="162.8" r="8.1"/><circle cx="1147.2" cy="162.9" r="8.1"/><circle cx="1174.4" cy="163.0" r="8.1"/><circle cx="1201.6" cy="163.1" r="8.1"/><circle cx="1228.8" cy="163.3" r="8.1"/><circle cx="1256.0" cy="163.5" r="8.1"/><circle cx="1283.2" cy="163.7" r="8.1"/><circle cx="1310.4" cy="164.0" r="8.1"/><circle cx="1337.6" cy="164.3" r="8.1"/><circle cx="1364.8" cy="164.7" r="8.1"/><circle cx="1392.0" cy="165.3" r="8.1"/><circle cx="1419.2" cy="165.9" r="8.1"/><circle cx="1446.4" cy="166.8" r="8.1"/><circle cx="1473.6" cy="168.3" r="8.1"/><circle cx="1500.8" cy="169.3" r="8.1"/><circle cx="1528.0" cy="170.6" r="8.1"/><circle cx="1555.2" cy="172.1" r="8.1"/><circle cx="1582.4" cy="173.9" r="8.1"/><circle cx="1609.6" cy="176.0" r="8.1"/><circle cx="1636.8" cy="178.7" r="8.1"/><circle cx="1664.1" cy="181.9" r="8.1"/><circle cx="1691.3" cy="185.9" r="8.1"/><circle cx="1718.5" cy="190.8" r="8.1"/><circle cx="1745.7" cy="196.8" r="8.1"/><circle cx="1772.9" cy="203.9" r="8.1"/><circle cx="1800.1" cy="214.1" r="8.1"/><circle cx="1827.3" cy="227.1" r="8.1"/><circle cx="1854.5" cy="244.1" r="8.1"/><circle cx="1881.7" cy="268.3" r="8.1"/><circle cx="1908.9" cy="302.1" r="8.1"/><circle cx="1936.1" cy="353.5" r="8.1"/><circle cx="1963.3" cy="442.2" r="8.1"/><circle cx="1990.5" cy="636.8" r="8.1"/><circle cx="2017.7" cy="1218.0" r="8.1"/><circle cx="2044.9" cy="1218.0" r="8.1"/></g>
</g>
<g stroke="#000" stroke-width="2.7" fill="none">
<line x1="412.7" y1="102.8" x2="412.7" y2="1233.2"/>
<line x1="396.2" y1="1111.9" x2="412.7" y2="1111.9"/>
<line x1="396.2" y1="1005.8" x2="412.7" y2="1005.8"/>
<line x1="396.2" y1="899.7" x2="412.7" y2="899.7"/>
<line x1="396.2" y1="793.6" x2="412.7" y2="793.6"/>
<line x1="396.2" y1="687.5" x2="412.7" y2="687.5"/>
<line x1="396.2" y1="581.4" x2="412.7" y2="581.4"/>
<line x1="396.2" y1="475.3" x2="412.7" y2="475.3"/>
<line x1="396.2" y1="369.2" x2="412.7" y2="369.2"/>
<line x1="396.2" y1="263.1" x2="412.7" y2="263.1"/>
<line x1="396.2" y1="157.0" x2="412.7" y2="157.0"/>
</g>
<g font-size="34" font-weight="bold" text-anchor="end">
<text x="386.4" y="1228.0">0</text>
<text x="386.4" y="1121.9">10</text>
<text x="386.4" y="1015.8">20</text>
<text x="386.4" y="909.7">30</text>
<text x="386.4" y="803.6">40</text>
<text x="386.4" y="697.5">50</text>
<text x="386.4" y="591.4">60</text>
<text x="386.4" y="485.3">70</text>
<text x="386.4" y="379.2">80</text>
<text x="386.4" y="273.1">90</text>
<text x="386.4" y="167.0">100</text>
</g>
<g font-size="34" font-weight="normal" text-anchor="middle">
<text x="412.7" y="1270.6">300</text>
<text x="684.7" y="1270.6">400</text>
<text x="956.8" y="1270.6">500</text>
<text x="1228.8" y="1270.6">600</text>
<text x="1500.8" y="1270.6">700</text>
<text x="1772.9" y="1270.6">800</text>
<text x="2044.9" y="1270.6">900</text>
</g>
<text font-size="41" font-weight="bold" text-anchor="middle" transform="translate(312.4,660.7) rotate(-90)">Quantum efficiency / %</text>
<text x="507.3" y="457.7" font-size="50" font-weight="bold">Absorber thickness</text>
<line x1="507.3" y1="503.3" x2="622.7" y2="503.3" stroke="#000000" stroke-width="2.7"/>
<circle cx="564.5" cy="503.3" r="8.5" fill="#000000"/>
<text x="633.4" y="520.5" font-size="50" font-weight="bold">200 nm</text>
<line x1="507.3" y1="566.7" x2="622.7" y2="566.7" stroke="#ff0000" stroke-width="3.0"/>
<circle cx="564.5" cy="566.7" r="8.5" fill="#ff0000"/>
<text x="633.4" y="583.9" font-size="50" font-weight="bold">300 nm</text>
<line x1="507.3" y1="630.1" x2="622.7" y2="630.1" stroke="#00ff00" stroke-width="3.7"/>
<circle cx="564.5" cy="630.1" r="8.5" fill="#00ff00"/>
<text x="633.4" y="647.3" font-size="50" font-weight="bold">400 nm</text>
<line x1="507.3" y1="693.6" x2="622.7" y2="693.6" stroke="#0000ff" stroke-width="2.8"/>
<circle cx="564.5" cy="693.6" r="8.5" fill="#0000ff"/>
<text x="633.4" y="710.8" font-size="50" font-weight="bold">500 nm</text>
<line x1="507.3" y1="757.0" x2="622.7" y2="757.0" stroke="#00ffff" stroke-width="3.4"/>
<circle cx="564.5" cy="757.0" r="8.5" fill="#00ffff"/>
<text x="633.4" y="774.2" font-size="50" font-weight="bold">600 nm</text>
<line x1="507.3" y1="820.4" x2="622.7" y2="820.4" stroke="#ff00ff" stroke-width="3.0"/>
<circle cx="564.5" cy="820.4" r="8.5" fill="#ff00ff"/>
<text x="633.4" y="837.6" font-size="50" font-weight="bold">700 nm</text>
<line x1="507.3" y1="883.8" x2="622.7" y2="883.8" stroke="#ffff00" stroke-width="3.2"/>
<circle cx="564.5" cy="883.8" r="8.5" fill="#ffff00"/>
<text x="633.4" y="901.0" font-size="50" font-weight="bold">800 nm</text>
<line x1="507.3" y1="947.2" x2="622.7" y2="947.2" stroke="#808000" stroke-width="2.8"/>
<circle cx="564.5" cy="947.2" r="8.5" fill="#808000"/>
<text x="633.4" y="964.4" font-size="50" font-weight="bold">900 nm</text>
<line x1="507.3" y1="1010.7" x2="622.7" y2="1010.7" stroke="#000080" stroke-width="2.7"/>
<circle cx="564.5" cy="1010.7" r="8.5" fill="#000080"/>
<text x="633.4" y="1027.9" font-size="50" font-weight="bold">100 nm</text>
<rect x="1042.1" y="35.4" width="256.8" height="96.9" fill="#000"/>
<rect x="1032.6" y="26.4" width="256.8" height="96.4" fill="#fff" stroke="#8c8c8c" stroke-width="2"/>
<text transform="translate(1039.3,90.4) scale(1,1.035)" font-size="60" font-weight="bold" word-spacing="-6.5">ZnO ETL</text>
<clipPath id="clipb"><rect x="414.05" y="1371.5" width="1769.6" height="1136.55"/></clipPath>
<g stroke="#000" stroke-width="2.7" fill="none">
<line x1="396.2" y1="2506.7" x2="2182.3" y2="2506.7"/>
<line x1="412.7" y1="2506.7" x2="412.7" y2="2521.9"/>
<line x1="684.7" y1="2506.7" x2="684.7" y2="2521.9"/>
<line x1="956.8" y1="2506.7" x2="956.8" y2="2521.9"/>
<line x1="1228.8" y1="2506.7" x2="1228.8" y2="2521.9"/>
<line x1="1500.8" y1="2506.7" x2="1500.8" y2="2521.9"/>
<line x1="1772.9" y1="2506.7" x2="1772.9" y2="2521.9"/>
<line x1="2044.9" y1="2506.7" x2="2044.9" y2="2521.9"/>
</g>
<g clip-path="url(#clipb)">
<polyline points="412.7,1543.3 439.9,1499.1 467.1,1503.3 494.3,1507.3 521.5,1512.5 548.7,1517.4 575.9,1521.7 603.1,1526.3 630.3,1531.1 657.5,1536.9 684.7,1542.3 711.9,1547.6 739.1,1552.9 766.3,1559.2 793.5,1565.0 820.7,1570.9 848.0,1577.3 875.2,1583.6 902.4,1591.1 929.6,1597.2 956.8,1604.4 984.0,1612.1 1011.2,1619.5 1038.4,1627.2 1065.6,1635.2 1092.8,1643.7 1120.0,1652.1 1147.2,1661.2 1174.4,1670.5 1201.6,1680.1 1228.8,1689.7 1256.0,1700.0 1283.2,1710.8 1310.4,1722.0 1337.6,1734.3 1364.8,1746.2 1392.0,1759.6 1419.2,1773.9 1446.4,1789.6 1473.6,1811.5 1500.8,1824.7 1528.0,1838.2 1555.2,1852.4 1582.4,1867.2 1609.6,1882.3 1636.8,1898.9 1664.1,1916.3 1691.3,1934.8 1718.5,1954.2 1745.7,1974.8 1772.9,1995.6 1800.1,2020.9 1827.3,2048.0 1854.5,2077.3 1881.7,2111.6 1908.9,2150.2 1936.1,2196.5 1963.3,2256.7 1990.5,2348.2 2017.7,2506.7 2044.9,2506.7" fill="none" stroke="#000000" stroke-width="2.7" stroke-linejoin="round"/>
<g fill="#000000"><circle cx="412.7" cy="1543.3" r="8.1"/><circle cx="439.9" cy="1499.1" r="8.1"/><circle cx="467.1" cy="1503.3" r="8.1"/><circle cx="494.3" cy="1507.3" r="8.1"/><circle cx="521.5" cy="1512.5" r="8.1"/><circle cx="548.7" cy="1517.4" r="8.1"/><circle cx="575.9" cy="1521.7" r="8.1"/><circle cx="603.1" cy="1526.3" r="8.1"/><circle cx="630.3" cy="1531.1" r="8.1"/><circle cx="657.5" cy="1536.9" r="8.1"/><circle cx="684.7" cy="1542.3" r="8.1"/><circle cx="711.9" cy="1547.6" r="8.1"/><circle cx="739.1" cy="1552.9" r="8.1"/><circle cx="766.3" cy="1559.2" r="8.1"/><circle cx="793.5" cy="1565.0" r="8.1"/><circle cx="820.7" cy="1570.9" r="8.1"/><circle cx="848.0" cy="1577.3" r="8.1"/><circle cx="875.2" cy="1583.6" r="8.1"/><circle cx="902.4" cy="1591.1" r="8.1"/><circle cx="929.6" cy="1597.2" r="8.1"/><circle cx="956.8" cy="1604.4" r="8.1"/><circle cx="984.0" cy="1612.1" r="8.1"/><circle cx="1011.2" cy="1619.5" r="8.1"/><circle cx="1038.4" cy="1627.2" r="8.1"/><circle cx="1065.6" cy="1635.2" r="8.1"/><circle cx="1092.8" cy="1643.7" r="8.1"/><circle cx="1120.0" cy="1652.1" r="8.1"/><circle cx="1147.2" cy="1661.2" r="8.1"/><circle cx="1174.4" cy="1670.5" r="8.1"/><circle cx="1201.6" cy="1680.1" r="8.1"/><circle cx="1228.8" cy="1689.7" r="8.1"/><circle cx="1256.0" cy="1700.0" r="8.1"/><circle cx="1283.2" cy="1710.8" r="8.1"/><circle cx="1310.4" cy="1722.0" r="8.1"/><circle cx="1337.6" cy="1734.3" r="8.1"/><circle cx="1364.8" cy="1746.2" r="8.1"/><circle cx="1392.0" cy="1759.6" r="8.1"/><circle cx="1419.2" cy="1773.9" r="8.1"/><circle cx="1446.4" cy="1789.6" r="8.1"/><circle cx="1473.6" cy="1811.5" r="8.1"/><circle cx="1500.8" cy="1824.7" r="8.1"/><circle cx="1528.0" cy="1838.2" r="8.1"/><circle cx="1555.2" cy="1852.4" r="8.1"/><circle cx="1582.4" cy="1867.2" r="8.1"/><circle cx="1609.6" cy="1882.3" r="8.1"/><circle cx="1636.8" cy="1898.9" r="8.1"/><circle cx="1664.1" cy="1916.3" r="8.1"/><circle cx="1691.3" cy="1934.8" r="8.1"/><circle cx="1718.5" cy="1954.2" r="8.1"/><circle cx="1745.7" cy="1974.8" r="8.1"/><circle cx="1772.9" cy="1995.6" r="8.1"/><circle cx="1800.1" cy="2020.9" r="8.1"/><circle cx="1827.3" cy="2048.0" r="8.1"/><circle cx="1854.5" cy="2077.3" r="8.1"/><circle cx="1881.7" cy="2111.6" r="8.1"/><circle cx="1908.9" cy="2150.2" r="8.1"/><circle cx="1936.1" cy="2196.5" r="8.1"/><circle cx="1963.3" cy="2256.7" r="8.1"/><circle cx="1990.5" cy="2348.2" r="8.1"/><circle cx="2017.7" cy="2506.7" r="8.1"/><circle cx="2044.9" cy="2506.7" r="8.1"/></g>
<polyline points="412.7,1508.9 439.9,1461.3 467.1,1462.6 494.3,1464.0 521.5,1465.9 548.7,1467.7 575.9,1469.3 603.1,1471.1 630.3,1473.1 657.5,1475.5 684.7,1477.8 711.9,1480.5 739.1,1483.3 766.3,1486.7 793.5,1489.8 820.7,1493.1 848.0,1496.7 875.2,1500.4 902.4,1504.7 929.6,1508.4 956.8,1512.9 984.0,1517.6 1011.2,1522.3 1038.4,1527.0 1065.6,1532.0 1092.8,1537.4 1120.0,1542.8 1147.2,1548.8 1174.4,1555.1 1201.6,1561.7 1228.8,1568.6 1256.0,1576.0 1283.2,1583.9 1310.4,1592.3 1337.6,1601.8 1364.8,1611.1 1392.0,1621.1 1419.2,1632.0 1446.4,1644.3 1473.6,1662.5 1500.8,1673.3 1528.0,1685.5 1555.2,1698.5 1582.4,1712.4 1609.6,1726.7 1636.8,1742.7 1664.1,1759.9 1691.3,1778.5 1718.5,1798.4 1745.7,1820.0 1772.9,1842.2 1800.1,1869.7 1827.3,1900.0 1854.5,1933.4 1881.7,1973.5 1908.9,2020.0 1936.1,2077.4 1963.3,2154.9 1990.5,2278.1 2017.7,2506.7 2044.9,2506.7" fill="none" stroke="#ff0000" stroke-width="3.0" stroke-linejoin="round"/>
<g fill="#ff0000"><circle cx="412.7" cy="1508.9" r="8.1"/><circle cx="439.9" cy="1461.3" r="8.1"/><circle cx="467.1" cy="1462.6" r="8.1"/><circle cx="494.3" cy="1464.0" r="8.1"/><circle cx="521.5" cy="1465.9" r="8.1"/><circle cx="548.7" cy="1467.7" r="8.1"/><circle cx="575.9" cy="1469.3" r="8.1"/><circle cx="603.1" cy="1471.1" r="8.1"/><circle cx="630.3" cy="1473.1" r="8.1"/><circle cx="657.5" cy="1475.5" r="8.1"/><circle cx="684.7" cy="1477.8" r="8.1"/><circle cx="711.9" cy="1480.5" r="8.1"/><circle cx="739.1" cy="1483.3" r="8.1"/><circle cx="766.3" cy="1486.7" r="8.1"/><circle cx="793.5" cy="1489.8" r="8.1"/><circle cx="820.7" cy="1493.1" r="8.1"/><circle cx="848.0" cy="1496.7" r="8.1"/><circle cx="875.2" cy="1500.4" r="8.1"/><circle cx="902.4" cy="1504.7" r="8.1"/><circle cx="929.6" cy="1508.4" r="8.1"/><circle cx="956.8" cy="1512.9" r="8.1"/><circle cx="984.0" cy="1517.6" r="8.1"/><circle cx="1011.2" cy="1522.3" r="8.1"/><circle cx="1038.4" cy="1527.0" r="8.1"/><circle cx="1065.6" cy="1532.0" r="8.1"/><circle cx="1092.8" cy="1537.4" r="8.1"/><circle cx="1120.0" cy="1542.8" r="8.1"/><circle cx="1147.2" cy="1548.8" r="8.1"/><circle cx="1174.4" cy="1555.1" r="8.1"/><circle cx="1201.6" cy="1561.7" r="8.1"/><circle cx="1228.8" cy="1568.6" r="8.1"/><circle cx="1256.0" cy="1576.0" r="8.1"/><circle cx="1283.2" cy="1583.9" r="8.1"/><circle cx="1310.4" cy="1592.3" r="8.1"/><circle cx="1337.6" cy="1601.8" r="8.1"/><circle cx="1364.8" cy="1611.1" r="8.1"/><circle cx="1392.0" cy="1621.1" r="8.1"/><circle cx="1419.2" cy="1632.0" r="8.1"/><circle cx="1446.4" cy="1644.3" r="8.1"/><circle cx="1473.6" cy="1662.5" r="8.1"/><circle cx="1500.8" cy="1673.3" r="8.1"/><circle cx="1528.0" cy="1685.5" r="8.1"/><circle cx="1555.2" cy="1698.5" r="8.1"/><circle cx="1582.4" cy="1712.4" r="8.1"/><circle cx="1609.6" cy="1726.7" r="8.1"/><circle cx="1636.8" cy="1742.7" r="8.1"/><circle cx="1664.1" cy="1759.9" r="8.1"/><circle cx="1691.3" cy="1778.5" r="8.1"/><circle cx="1718.5" cy="1798.4" r="8.1"/><circle cx="1745.7" cy="1820.0" r="8.1"/><circle cx="1772.9" cy="1842.2" r="8.1"/><circle cx="1800.1" cy="1869.7" r="8.1"/><circle cx="1827.3" cy="1900.0" r="8.1"/><circle cx="1854.5" cy="1933.4" r="8.1"/><circle cx="1881.7" cy="1973.5" r="8.1"/><circle cx="1908.9" cy="2020.0" r="8.1"/><circle cx="1936.1" cy="2077.4" r="8.1"/><circle cx="1963.3" cy="2154.9" r="8.1"/><circle cx="1990.5" cy="2278.1" r="8.1"/><circle cx="2017.7" cy="2506.7" r="8.1"/><circle cx="2044.9" cy="2506.7" r="8.1"/></g>
<polyline points="412.7,1501.7 439.9,1453.2 467.1,1453.6 494.3,1454.0 521.5,1454.6 548.7,1455.2 575.9,1455.7 603.1,1456.4 630.3,1457.1 657.5,1458.0 684.7,1458.9 711.9,1460.0 739.1,1461.2 766.3,1462.7 793.5,1464.1 820.7,1465.6 848.0,1467.3 875.2,1469.0 902.4,1471.1 929.6,1473.0 956.8,1475.2 984.0,1477.7 1011.2,1480.2 1038.4,1482.8 1065.6,1485.5 1092.8,1488.5 1120.0,1491.6 1147.2,1495.2 1174.4,1499.0 1201.6,1503.0 1228.8,1507.3 1256.0,1512.1 1283.2,1517.3 1310.4,1522.9 1337.6,1529.4 1364.8,1535.9 1392.0,1543.1 1419.2,1551.1 1446.4,1560.5 1473.6,1574.6 1500.8,1583.3 1528.0,1593.0 1555.2,1603.6 1582.4,1615.1 1609.6,1627.2 1636.8,1641.0 1664.1,1656.0 1691.3,1672.7 1718.5,1690.9 1745.7,1710.9 1772.9,1732.0 1800.1,1758.6 1827.3,1788.6 1854.5,1822.6 1881.7,1864.3 1908.9,1914.1 1936.1,1977.4 1963.3,2065.9 1990.5,2213.5 2017.7,2506.7 2044.9,2506.7" fill="none" stroke="#00ff00" stroke-width="3.7" stroke-linejoin="round"/>
<g fill="#00ff00"><circle cx="412.7" cy="1501.7" r="8.1"/><circle cx="439.9" cy="1453.2" r="8.1"/><circle cx="467.1" cy="1453.6" r="8.1"/><circle cx="494.3" cy="1454.0" r="8.1"/><circle cx="521.5" cy="1454.6" r="8.1"/><circle cx="548.7" cy="1455.2" r="8.1"/><circle cx="575.9" cy="1455.7" r="8.1"/><circle cx="603.1" cy="1456.4" r="8.1"/><circle cx="630.3" cy="1457.1" r="8.1"/><circle cx="657.5" cy="1458.0" r="8.1"/><circle cx="684.7" cy="1458.9" r="8.1"/><circle cx="711.9" cy="1460.0" r="8.1"/><circle cx="739.1" cy="1461.2" r="8.1"/><circle cx="766.3" cy="1462.7" r="8.1"/><circle cx="793.5" cy="1464.1" r="8.1"/><circle cx="820.7" cy="1465.6" r="8.1"/><circle cx="848.0" cy="1467.3" r="8.1"/><circle cx="875.2" cy="1469.0" r="8.1"/><circle cx="902.4" cy="1471.1" r="8.1"/><circle cx="929.6" cy="1473.0" r="8.1"/><circle cx="956.8" cy="1475.2" r="8.1"/><circle cx="984.0" cy="1477.7" r="8.1"/><circle cx="1011.2" cy="1480.2" r="8.1"/><circle cx="1038.4" cy="1482.8" r="8.1"/><circle cx="1065.6" cy="1485.5" r="8.1"/><circle cx="1092.8" cy="1488.5" r="8.1"/><circle cx="1120.0" cy="1491.6" r="8.1"/><circle cx="1147.2" cy="1495.2" r="8.1"/><circle cx="1174.4" cy="1499.0" r="8.1"/><circle cx="1201.6" cy="1503.0" r="8.1"/><circle cx="1228.8" cy="1507.3" r="8.1"/><circle cx="1256.0" cy="1512.1" r="8.1"/><circle cx="1283.2" cy="1517.3" r="8.1"/><circle cx="1310.4" cy="1522.9" r="8.1"/><circle cx="1337.6" cy="1529.4" r="8.1"/><circle cx="1364.8" cy="1535.9" r="8.1"/><circle cx="1392.0" cy="1543.1" r="8.1"/><circle cx="1419.2" cy="1551.1" r="8.1"/><circle cx="1446.4" cy="1560.5" r="8.1"/><circle cx="1473.6" cy="1574.6" r="8.1"/><circle cx="1500.8" cy="1583.3" r="8.1"/><circle cx="1528.0" cy="1593.0" r="8.1"/><circle cx="1555.2" cy="1603.6" r="8.1"/><circle cx="1582.4" cy="1615.1" r="8.1"/><circle cx="1609.6" cy="1627.2" r="8.1"/><circle cx="1636.8" cy="1641.0" r="8.1"/><circle cx="1664.1" cy="1656.0" r="8.1"/><circle cx="1691.3" cy="1672.7" r="8.1"/><circle cx="1718.5" cy="1690.9" r="8.1"/><circle cx="1745.7" cy="1710.9" r="8.1"/><circle cx="1772.9" cy="1732.0" r="8.1"/><circle cx="1800.1" cy="1758.6" r="8.1"/><circle cx="1827.3" cy="1788.6" r="8.1"/><circle cx="1854.5" cy="1822.6" r="8.1"/><circle cx="1881.7" cy="1864.3" r="8.1"/><circle cx="1908.9" cy="1914.1" r="8.1"/><circle cx="1936.1" cy="1977.4" r="8.1"/><circle cx="1963.3" cy="2065.9" r="8.1"/><circle cx="1990.5" cy="2213.5" r="8.1"/><circle cx="2017.7" cy="2506.7" r="8.1"/><circle cx="2044.9" cy="2506.7" r="8.1"/></g>
<polyline points="412.7,1500.2 439.9,1451.5 467.1,1451.6 494.3,1451.7 521.5,1451.9 548.7,1452.1 575.9,1452.2 603.1,1452.4 630.3,1452.7 657.5,1453.0 684.7,1453.3 711.9,1453.8 739.1,1454.3 766.3,1454.9 793.5,1455.5 820.7,1456.1 848.0,1456.9 875.2,1457.7 902.4,1458.6 929.6,1459.5 956.8,1460.6 984.0,1461.8 1011.2,1463.0 1038.4,1464.3 1065.6,1465.7 1092.8,1467.3 1120.0,1469.0 1147.2,1471.0 1174.4,1473.1 1201.6,1475.4 1228.8,1477.9 1256.0,1480.8 1283.2,1484.0 1310.4,1487.5 1337.6,1491.7 1364.8,1495.9 1392.0,1500.8 1419.2,1506.4 1446.4,1513.0 1473.6,1523.2 1500.8,1529.7 1528.0,1537.0 1555.2,1545.1 1582.4,1554.0 1609.6,1563.6 1636.8,1574.7 1664.1,1587.1 1691.3,1601.1 1718.5,1616.6 1745.7,1634.1 1772.9,1652.8 1800.1,1677.0 1827.3,1704.9 1854.5,1737.2 1881.7,1778.0 1908.9,1827.9 1936.1,1893.3 1963.3,1988.2 1990.5,2153.9 2017.7,2506.7 2044.9,2506.7" fill="none" stroke="#0000ff" stroke-width="2.8" stroke-linejoin="round"/>
<g fill="#0000ff"><circle cx="412.7" cy="1500.2" r="8.1"/><circle cx="439.9" cy="1451.5" r="8.1"/><circle cx="467.1" cy="1451.6" r="8.1"/><circle cx="494.3" cy="1451.7" r="8.1"/><circle cx="521.5" cy="1451.9" r="8.1"/><circle cx="548.7" cy="1452.1" r="8.1"/><circle cx="575.9" cy="1452.2" r="8.1"/><circle cx="603.1" cy="1452.4" r="8.1"/><circle cx="630.3" cy="1452.7" r="8.1"/><circle cx="657.5" cy="1453.0" r="8.1"/><circle cx="684.7" cy="1453.3" r="8.1"/><circle cx="711.9" cy="1453.8" r="8.1"/><circle cx="739.1" cy="1454.3" r="8.1"/><circle cx="766.3" cy="1454.9" r="8.1"/><circle cx="793.5" cy="1455.5" r="8.1"/><circle cx="820.7" cy="1456.1" r="8.1"/><circle cx="848.0" cy="1456.9" r="8.1"/><circle cx="875.2" cy="1457.7" r="8.1"/><circle cx="902.4" cy="1458.6" r="8.1"/><circle cx="929.6" cy="1459.5" r="8.1"/><circle cx="956.8" cy="1460.6" r="8.1"/><circle cx="984.0" cy="1461.8" r="8.1"/><circle cx="1011.2" cy="1463.0" r="8.1"/><circle cx="1038.4" cy="1464.3" r="8.1"/><circle cx="1065.6" cy="1465.7" r="8.1"/><circle cx="1092.8" cy="1467.3" r="8.1"/><circle cx="1120.0" cy="1469.0" r="8.1"/><circle cx="1147.2" cy="1471.0" r="8.1"/><circle cx="1174.4" cy="1473.1" r="8.1"/><circle cx="1201.6" cy="1475.4" r="8.1"/><circle cx="1228.8" cy="1477.9" r="8.1"/><circle cx="1256.0" cy="1480.8" r="8.1"/><circle cx="1283.2" cy="1484.0" r="8.1"/><circle cx="1310.4" cy="1487.5" r="8.1"/><circle cx="1337.6" cy="1491.7" r="8.1"/><circle cx="1364.8" cy="1495.9" r="8.1"/><circle cx="1392.0" cy="1500.8" r="8.1"/><circle cx="1419.2" cy="1506.4" r="8.1"/><circle cx="1446.4" cy="1513.0" r="8.1"/><circle cx="1473.6" cy="1523.2" r="8.1"/><circle cx="1500.8" cy="1529.7" r="8.1"/><circle cx="1528.0" cy="1537.0" r="8.1"/><circle cx="1555.2" cy="1545.1" r="8.1"/><circle cx="1582.4" cy="1554.0" r="8.1"/><circle cx="1609.6" cy="1563.6" r="8.1"/><circle cx="1636.8" cy="1574.7" r="8.1"/><circle cx="1664.1" cy="1587.1" r="8.1"/><circle cx="1691.3" cy="1601.1" r="8.1"/><circle cx="1718.5" cy="1616.6" r="8.1"/><circle cx="1745.7" cy="1634.1" r="8.1"/><circle cx="1772.9" cy="1652.8" r="8.1"/><circle cx="1800.1" cy="1677.0" r="8.1"/><circle cx="1827.3" cy="1704.9" r="8.1"/><circle cx="1854.5" cy="1737.2" r="8.1"/><circle cx="1881.7" cy="1778.0" r="8.1"/><circle cx="1908.9" cy="1827.9" r="8.1"/><circle cx="1936.1" cy="1893.3" r="8.1"/><circle cx="1963.3" cy="1988.2" r="8.1"/><circle cx="1990.5" cy="2153.9" r="8.1"/><circle cx="2017.7" cy="2506.7" r="8.1"/><circle cx="2044.9" cy="2506.7" r="8.1"/></g>
<polyline points="412.7,1499.9 439.9,1451.1 467.1,1451.1 494.3,1451.2 521.5,1451.2 548.7,1451.3 575.9,1451.3 603.1,1451.4 630.3,1451.5 657.5,1451.6 684.7,1451.7 711.9,1451.8 739.1,1452.0 766.3,1452.2 793.5,1452.4 820.7,1452.6 848.0,1452.9 875.2,1453.2 902.4,1453.5 929.6,1453.9 956.8,1454.3 984.0,1454.8 1011.2,1455.4 1038.4,1456.0 1065.6,1456.7 1092.8,1457.5 1120.0,1458.4 1147.2,1459.5 1174.4,1460.6 1201.6,1461.9 1228.8,1463.4 1256.0,1465.0 1283.2,1466.9 1310.4,1469.0 1337.6,1471.6 1364.8,1474.3 1392.0,1477.6 1419.2,1481.4 1446.4,1486.1 1473.6,1493.3 1500.8,1498.1 1528.0,1503.4 1555.2,1509.4 1582.4,1516.1 1609.6,1523.4 1636.8,1532.0 1664.1,1541.8 1691.3,1553.0 1718.5,1565.8 1745.7,1580.4 1772.9,1596.4 1800.1,1617.6 1827.3,1642.5 1854.5,1672.0 1881.7,1710.2 1908.9,1758.3 1936.1,1823.3 1963.3,1920.9 1990.5,2099.5 2017.7,2506.7 2044.9,2506.7" fill="none" stroke="#00ffff" stroke-width="3.4" stroke-linejoin="round"/>
<g fill="#00ffff"><circle cx="412.7" cy="1499.9" r="8.1"/><circle cx="439.9" cy="1451.1" r="8.1"/><circle cx="467.1" cy="1451.1" r="8.1"/><circle cx="494.3" cy="1451.2" r="8.1"/><circle cx="521.5" cy="1451.2" r="8.1"/><circle cx="548.7" cy="1451.3" r="8.1"/><circle cx="575.9" cy="1451.3" r="8.1"/><circle cx="603.1" cy="1451.4" r="8.1"/><circle cx="630.3" cy="1451.5" r="8.1"/><circle cx="657.5" cy="1451.6" r="8.1"/><circle cx="684.7" cy="1451.7" r="8.1"/><circle cx="711.9" cy="1451.8" r="8.1"/><circle cx="739.1" cy="1452.0" r="8.1"/><circle cx="766.3" cy="1452.2" r="8.1"/><circle cx="793.5" cy="1452.4" r="8.1"/><circle cx="820.7" cy="1452.6" r="8.1"/><circle cx="848.0" cy="1452.9" r="8.1"/><circle cx="875.2" cy="1453.2" r="8.1"/><circle cx="902.4" cy="1453.5" r="8.1"/><circle cx="929.6" cy="1453.9" r="8.1"/><circle cx="956.8" cy="1454.3" r="8.1"/><circle cx="984.0" cy="1454.8" r="8.1"/><circle cx="1011.2" cy="1455.4" r="8.1"/><circle cx="1038.4" cy="1456.0" r="8.1"/><circle cx="1065.6" cy="1456.7" r="8.1"/><circle cx="1092.8" cy="1457.5" r="8.1"/><circle cx="1120.0" cy="1458.4" r="8.1"/><circle cx="1147.2" cy="1459.5" r="8.1"/><circle cx="1174.4" cy="1460.6" r="8.1"/><circle cx="1201.6" cy="1461.9" r="8.1"/><circle cx="1228.8" cy="1463.4" r="8.1"/><circle cx="1256.0" cy="1465.0" r="8.1"/><circle cx="1283.2" cy="1466.9" r="8.1"/><circle cx="1310.4" cy="1469.0" r="8.1"/><circle cx="1337.6" cy="1471.6" r="8.1"/><circle cx="1364.8" cy="1474.3" r="8.1"/><circle cx="1392.0" cy="1477.6" r="8.1"/><circle cx="1419.2" cy="1481.4" r="8.1"/><circle cx="1446.4" cy="1486.1" r="8.1"/><circle cx="1473.6" cy="1493.3" r="8.1"/><circle cx="1500.8" cy="1498.1" r="8.1"/><circle cx="1528.0" cy="1503.4" r="8.1"/><circle cx="1555.2" cy="1509.4" r="8.1"/><circle cx="1582.4" cy="1516.1" r="8.1"/><circle cx="1609.6" cy="1523.4" r="8.1"/><circle cx="1636.8" cy="1532.0" r="8.1"/><circle cx="1664.1" cy="1541.8" r="8.1"/><circle cx="1691.3" cy="1553.0" r="8.1"/><circle cx="1718.5" cy="1565.8" r="8.1"/><circle cx="1745.7" cy="1580.4" r="8.1"/><circle cx="1772.9" cy="1596.4" r="8.1"/><circle cx="1800.1" cy="1617.6" r="8.1"/><circle cx="1827.3" cy="1642.5" r="8.1"/><circle cx="1854.5" cy="1672.0" r="8.1"/><circle cx="1881.7" cy="1710.2" r="8.1"/><circle cx="1908.9" cy="1758.3" r="8.1"/><circle cx="1936.1" cy="1823.3" r="8.1"/><circle cx="1963.3" cy="1920.9" r="8.1"/><circle cx="1990.5" cy="2099.5" r="8.1"/><circle cx="2017.7" cy="2506.7" r="8.1"/><circle cx="2044.9" cy="2506.7" r="8.1"/></g>
<polyline points="412.7,1499.8 439.9,1451.0 467.1,1451.1 494.3,1451.1 521.5,1451.1 548.7,1451.1 575.9,1451.1 603.1,1451.1 630.3,1451.2 657.5,1451.2 684.7,1451.3 711.9,1451.3 739.1,1451.4 766.3,1451.4 793.5,1451.5 820.7,1451.6 848.0,1451.7 875.2,1451.8 902.4,1452.0 929.6,1452.2 956.8,1452.4 984.0,1452.6 1011.2,1452.9 1038.4,1453.2 1065.6,1453.5 1092.8,1453.9 1120.0,1454.4 1147.2,1455.0 1174.4,1455.6 1201.6,1456.3 1228.8,1457.1 1256.0,1458.0 1283.2,1459.2 1310.4,1460.4 1337.6,1462.0 1364.8,1463.6 1392.0,1465.7 1419.2,1468.2 1446.4,1471.3 1473.6,1476.2 1500.8,1479.5 1528.0,1483.2 1555.2,1487.5 1582.4,1492.4 1609.6,1497.8 1636.8,1504.4 1664.1,1511.9 1691.3,1520.8 1718.5,1531.0 1745.7,1543.0 1772.9,1556.3 1800.1,1574.3 1827.3,1596.0 1854.5,1622.2 1881.7,1657.1 1908.9,1702.2 1936.1,1765.0 1963.3,1862.7 1990.5,2049.8 2017.7,2506.7 2044.9,2506.7" fill="none" stroke="#ff00ff" stroke-width="3.0" stroke-linejoin="round"/>
<g fill="#ff00ff"><circle cx="412.7" cy="1499.8" r="8.1"/><circle cx="439.9" cy="1451.0" r="8.1"/><circle cx="467.1" cy="1451.1" r="8.1"/><circle cx="494.3" cy="1451.1" r="8.1"/><circle cx="521.5" cy="1451.1" r="8.1"/><circle cx="548.7" cy="1451.1" r="8.1"/><circle cx="575.9" cy="1451.1" r="8.1"/><circle cx="603.1" cy="1451.1" r="8.1"/><circle cx="630.3" cy="1451.2" r="8.1"/><circle cx="657.5" cy="1451.2" r="8.1"/><circle cx="684.7" cy="1451.3" r="8.1"/><circle cx="711.9" cy="1451.3" r="8.1"/><circle cx="739.1" cy="1451.4" r="8.1"/><circle cx="766.3" cy="1451.4" r="8.1"/><circle cx="793.5" cy="1451.5" r="8.1"/><circle cx="820.7" cy="1451.6" r="8.1"/><circle cx="848.0" cy="1451.7" r="8.1"/><circle cx="875.2" cy="1451.8" r="8.1"/><circle cx="902.4" cy="1452.0" r="8.1"/><circle cx="929.6" cy="1452.2" r="8.1"/><circle cx="956.8" cy="1452.4" r="8.1"/><circle cx="984.0" cy="1452.6" r="8.1"/><circle cx="1011.2" cy="1452.9" r="8.1"/><circle cx="1038.4" cy="1453.2" r="8.1"/><circle cx="1065.6" cy="1453.5" r="8.1"/><circle cx="1092.8" cy="1453.9" r="8.1"/><circle cx="1120.0" cy="1454.4" r="8.1"/><circle cx="1147.2" cy="1455.0" r="8.1"/><circle cx="1174.4" cy="1455.6" r="8.1"/><circle cx="1201.6" cy="1456.3" r="8.1"/><circle cx="1228.8" cy="1457.1" r="8.1"/><circle cx="1256.0" cy="1458.0" r="8.1"/><circle cx="1283.2" cy="1459.2" r="8.1"/><circle cx="1310.4" cy="1460.4" r="8.1"/><circle cx="1337.6" cy="1462.0" r="8.1"/><circle cx="1364.8" cy="1463.6" r="8.1"/><circle cx="1392.0" cy="1465.7" r="8.1"/><circle cx="1419.2" cy="1468.2" r="8.1"/><circle cx="1446.4" cy="1471.3" r="8.1"/><circle cx="1473.6" cy="1476.2" r="8.1"/><circle cx="1500.8" cy="1479.5" r="8.1"/><circle cx="1528.0" cy="1483.2" r="8.1"/><circle cx="1555.2" cy="1487.5" r="8.1"/><circle cx="1582.4" cy="1492.4" r="8.1"/><circle cx="1609.6" cy="1497.8" r="8.1"/><circle cx="1636.8" cy="1504.4" r="8.1"/><circle cx="1664.1" cy="1511.9" r="8.1"/><circle cx="1691.3" cy="1520.8" r="8.1"/><circle cx="1718.5" cy="1531.0" r="8.1"/><circle cx="1745.7" cy="1543.0" r="8.1"/><circle cx="1772.9" cy="1556.3" r="8.1"/><circle cx="1800.1" cy="1574.3" r="8.1"/><circle cx="1827.3" cy="1596.0" r="8.1"/><circle cx="1854.5" cy="1622.2" r="8.1"/><circle cx="1881.7" cy="1657.1" r="8.1"/><circle cx="1908.9" cy="1702.2" r="8.1"/><circle cx="1936.1" cy="1765.0" r="8.1"/><circle cx="1963.3" cy="1862.7" r="8.1"/><circle cx="1990.5" cy="2049.8" r="8.1"/><circle cx="2017.7" cy="2506.7" r="8.1"/><circle cx="2044.9" cy="2506.7" r="8.1"/></g>
<polyline points="412.7,1499.8 439.9,1451.0 467.1,1451.0 494.3,1451.0 521.5,1451.0 548.7,1451.0 575.9,1451.1 603.1,1451.1 630.3,1451.1 657.5,1451.1 684.7,1451.1 711.9,1451.1 739.1,1451.2 766.3,1451.2 793.5,1451.2 820.7,1451.3 848.0,1451.3 875.2,1451.4 902.4,1451.5 929.6,1451.5 956.8,1451.6 984.0,1451.7 1011.2,1451.9 1038.4,1452.0 1065.6,1452.2 1092.8,1452.4 1120.0,1452.6 1147.2,1452.9 1174.4,1453.3 1201.6,1453.7 1228.8,1454.1 1256.0,1454.7 1283.2,1455.3 1310.4,1456.1 1337.6,1457.0 1364.8,1458.0 1392.0,1459.3 1419.2,1460.9 1446.4,1462.9 1473.6,1466.2 1500.8,1468.5 1528.0,1471.1 1555.2,1474.1 1582.4,1477.7 1609.6,1481.6 1636.8,1486.5 1664.1,1492.3 1691.3,1499.1 1718.5,1507.2 1745.7,1516.8 1772.9,1527.7 1800.1,1542.7 1827.3,1561.2 1854.5,1584.2 1881.7,1615.5 1908.9,1656.9 1936.1,1716.5 1963.3,1812.3 1990.5,2004.5 2017.7,2506.7 2044.9,2506.7" fill="none" stroke="#ffff00" stroke-width="3.2" stroke-linejoin="round"/>
<g fill="#ffff00"><circle cx="412.7" cy="1499.8" r="8.1"/><circle cx="439.9" cy="1451.0" r="8.1"/><circle cx="467.1" cy="1451.0" r="8.1"/><circle cx="494.3" cy="1451.0" r="8.1"/><circle cx="521.5" cy="1451.0" r="8.1"/><circle cx="548.7" cy="1451.0" r="8.1"/><circle cx="575.9" cy="1451.1" r="8.1"/><circle cx="603.1" cy="1451.1" r="8.1"/><circle cx="630.3" cy="1451.1" r="8.1"/><circle cx="657.5" cy="1451.1" r="8.1"/><circle cx="684.7" cy="1451.1" r="8.1"/><circle cx="711.9" cy="1451.1" r="8.1"/><circle cx="739.1" cy="1451.2" r="8.1"/><circle cx="766.3" cy="1451.2" r="8.1"/><circle cx="793.5" cy="1451.2" r="8.1"/><circle cx="820.7" cy="1451.3" r="8.1"/><circle cx="848.0" cy="1451.3" r="8.1"/><circle cx="875.2" cy="1451.4" r="8.1"/><circle cx="902.4" cy="1451.5" r="8.1"/><circle cx="929.6" cy="1451.5" r="8.1"/><circle cx="956.8" cy="1451.6" r="8.1"/><circle cx="984.0" cy="1451.7" r="8.1"/><circle cx="1011.2" cy="1451.9" r="8.1"/><circle cx="1038.4" cy="1452.0" r="8.1"/><circle cx="1065.6" cy="1452.2" r="8.1"/><circle cx="1092.8" cy="1452.4" r="8.1"/><circle cx="1120.0" cy="1452.6" r="8.1"/><circle cx="1147.2" cy="1452.9" r="8.1"/><circle cx="1174.4" cy="1453.3" r="8.1"/><circle cx="1201.6" cy="1453.7" r="8.1"/><circle cx="1228.8" cy="1454.1" r="8.1"/><circle cx="1256.0" cy="1454.7" r="8.1"/><circle cx="1283.2" cy="1455.3" r="8.1"/><circle cx="1310.4" cy="1456.1" r="8.1"/><circle cx="1337.6" cy="1457.0" r="8.1"/><circle cx="1364.8" cy="1458.0" r="8.1"/><circle cx="1392.0" cy="1459.3" r="8.1"/><circle cx="1419.2" cy="1460.9" r="8.1"/><circle cx="1446.4" cy="1462.9" r="8.1"/><circle cx="1473.6" cy="1466.2" r="8.1"/><circle cx="1500.8" cy="1468.5" r="8.1"/><circle cx="1528.0" cy="1471.1" r="8.1"/><circle cx="1555.2" cy="1474.1" r="8.1"/><circle cx="1582.4" cy="1477.7" r="8.1"/><circle cx="1609.6" cy="1481.6" r="8.1"/><circle cx="1636.8" cy="1486.5" r="8.1"/><circle cx="1664.1" cy="1492.3" r="8.1"/><circle cx="1691.3" cy="1499.1" r="8.1"/><circle cx="1718.5" cy="1507.2" r="8.1"/><circle cx="1745.7" cy="1516.8" r="8.1"/><circle cx="1772.9" cy="1527.7" r="8.1"/><circle cx="1800.1" cy="1542.7" r="8.1"/><circle cx="1827.3" cy="1561.2" r="8.1"/><circle cx="1854.5" cy="1584.2" r="8.1"/><circle cx="1881.7" cy="1615.5" r="8.1"/><circle cx="1908.9" cy="1656.9" r="8.1"/><circle cx="1936.1" cy="1716.5" r="8.1"/><circle cx="1963.3" cy="1812.3" r="8.1"/><circle cx="1990.5" cy="2004.5" r="8.1"/><circle cx="2017.7" cy="2506.7" r="8.1"/><circle cx="2044.9" cy="2506.7" r="8.1"/></g>
<polyline points="412.7,1499.8 439.9,1451.0 467.1,1451.0 494.3,1451.0 521.5,1451.0 548.7,1451.0 575.9,1451.0 603.1,1451.0 630.3,1451.0 657.5,1451.1 684.7,1451.1 711.9,1451.1 739.1,1451.1 766.3,1451.1 793.5,1451.1 820.7,1451.1 848.0,1451.2 875.2,1451.2 902.4,1451.2 929.6,1451.3 956.8,1451.3 984.0,1451.4 1011.2,1451.4 1038.4,1451.5 1065.6,1451.6 1092.8,1451.7 1120.0,1451.9 1147.2,1452.0 1174.4,1452.2 1201.6,1452.4 1228.8,1452.7 1256.0,1453.0 1283.2,1453.4 1310.4,1453.8 1337.6,1454.4 1364.8,1455.0 1392.0,1455.9 1419.2,1456.9 1446.4,1458.2 1473.6,1460.4 1500.8,1462.0 1528.0,1463.7 1555.2,1465.9 1582.4,1468.4 1609.6,1471.3 1636.8,1474.9 1664.1,1479.2 1691.3,1484.5 1718.5,1490.8 1745.7,1498.4 1772.9,1507.2 1800.1,1519.6 1827.3,1535.3 1854.5,1555.1 1881.7,1582.7 1908.9,1620.4 1936.1,1676.0 1963.3,1768.7 1990.5,1963.2 2017.7,2506.7 2044.9,2506.7" fill="none" stroke="#808000" stroke-width="2.8" stroke-linejoin="round"/>
<g fill="#808000"><circle cx="412.7" cy="1499.8" r="8.1"/><circle cx="439.9" cy="1451.0" r="8.1"/><circle cx="467.1" cy="1451.0" r="8.1"/><circle cx="494.3" cy="1451.0" r="8.1"/><circle cx="521.5" cy="1451.0" r="8.1"/><circle cx="548.7" cy="1451.0" r="8.1"/><circle cx="575.9" cy="1451.0" r="8.1"/><circle cx="603.1" cy="1451.0" r="8.1"/><circle cx="630.3" cy="1451.0" r="8.1"/><circle cx="657.5" cy="1451.1" r="8.1"/><circle cx="684.7" cy="1451.1" r="8.1"/><circle cx="711.9" cy="1451.1" r="8.1"/><circle cx="739.1" cy="1451.1" r="8.1"/><circle cx="766.3" cy="1451.1" r="8.1"/><circle cx="793.5" cy="1451.1" r="8.1"/><circle cx="820.7" cy="1451.1" r="8.1"/><circle cx="848.0" cy="1451.2" r="8.1"/><circle cx="875.2" cy="1451.2" r="8.1"/><circle cx="902.4" cy="1451.2" r="8.1"/><circle cx="929.6" cy="1451.3" r="8.1"/><circle cx="956.8" cy="1451.3" r="8.1"/><circle cx="984.0" cy="1451.4" r="8.1"/><circle cx="1011.2" cy="1451.4" r="8.1"/><circle cx="1038.4" cy="1451.5" r="8.1"/><circle cx="1065.6" cy="1451.6" r="8.1"/><circle cx="1092.8" cy="1451.7" r="8.1"/><circle cx="1120.0" cy="1451.9" r="8.1"/><circle cx="1147.2" cy="1452.0" r="8.1"/><circle cx="1174.4" cy="1452.2" r="8.1"/><circle cx="1201.6" cy="1452.4" r="8.1"/><circle cx="1228.8" cy="1452.7" r="8.1"/><circle cx="1256.0" cy="1453.0" r="8.1"/><circle cx="1283.2" cy="1453.4" r="8.1"/><circle cx="1310.4" cy="1453.8" r="8.1"/><circle cx="1337.6" cy="1454.4" r="8.1"/><circle cx="1364.8" cy="1455.0" r="8.1"/><circle cx="1392.0" cy="1455.9" r="8.1"/><circle cx="1419.2" cy="1456.9" r="8.1"/><circle cx="1446.4" cy="1458.2" r="8.1"/><circle cx="1473.6" cy="1460.4" r="8.1"/><circle cx="1500.8" cy="1462.0" r="8.1"/><circle cx="1528.0" cy="1463.7" r="8.1"/><circle cx="1555.2" cy="1465.9" r="8.1"/><circle cx="1582.4" cy="1468.4" r="8.1"/><circle cx="1609.6" cy="1471.3" r="8.1"/><circle cx="1636.8" cy="1474.9" r="8.1"/><circle cx="1664.1" cy="1479.2" r="8.1"/><circle cx="1691.3" cy="1484.5" r="8.1"/><circle cx="1718.5" cy="1490.8" r="8.1"/><circle cx="1745.7" cy="1498.4" r="8.1"/><circle cx="1772.9" cy="1507.2" r="8.1"/><circle cx="1800.1" cy="1519.6" r="8.1"/><circle cx="1827.3" cy="1535.3" r="8.1"/><circle cx="1854.5" cy="1555.1" r="8.1"/><circle cx="1881.7" cy="1582.7" r="8.1"/><circle cx="1908.9" cy="1620.4" r="8.1"/><circle cx="1936.1" cy="1676.0" r="8.1"/><circle cx="1963.3" cy="1768.7" r="8.1"/><circle cx="1990.5" cy="1963.2" r="8.1"/><circle cx="2017.7" cy="2506.7" r="8.1"/><circle cx="2044.9" cy="2506.7" r="8.1"/></g>
<polyline points="412.7,1499.8 439.9,1451.0 467.1,1451.0 494.3,1451.0 521.5,1451.0 548.7,1451.0 575.9,1451.0 603.1,1451.0 630.3,1451.0 657.5,1451.0 684.7,1451.0 711.9,1451.0 739.1,1451.1 766.3,1451.1 793.5,1451.1 820.7,1451.1 848.0,1451.1 875.2,1451.1 902.4,1451.1 929.6,1451.2 956.8,1451.2 984.0,1451.2 1011.2,1451.3 1038.4,1451.3 1065.6,1451.4 1092.8,1451.4 1120.0,1451.5 1147.2,1451.6 1174.4,1451.7 1201.6,1451.8 1228.8,1452.0 1256.0,1452.2 1283.2,1452.4 1310.4,1452.7 1337.6,1453.0 1364.8,1453.4 1392.0,1454.0 1419.2,1454.6 1446.4,1455.5 1473.6,1457.0 1500.8,1458.0 1528.0,1459.3 1555.2,1460.8 1582.4,1462.6 1609.6,1464.7 1636.8,1467.4 1664.1,1470.6 1691.3,1474.6 1718.5,1479.5 1745.7,1485.5 1772.9,1492.6 1800.1,1502.8 1827.3,1515.8 1854.5,1532.8 1881.7,1557.0 1908.9,1590.8 1936.1,1642.2 1963.3,1730.9 1990.5,1925.5 2017.7,2506.7 2044.9,2506.7" fill="none" stroke="#000080" stroke-width="2.7" stroke-linejoin="round"/>
<g fill="#000080"><circle cx="412.7" cy="1499.8" r="8.1"/><circle cx="439.9" cy="1451.0" r="8.1"/><circle cx="467.1" cy="1451.0" r="8.1"/><circle cx="494.3" cy="1451.0" r="8.1"/><circle cx="521.5" cy="1451.0" r="8.1"/><circle cx="548.7" cy="1451.0" r="8.1"/><circle cx="575.9" cy="1451.0" r="8.1"/><circle cx="603.1" cy="1451.0" r="8.1"/><circle cx="630.3" cy="1451.0" r="8.1"/><circle cx="657.5" cy="1451.0" r="8.1"/><circle cx="684.7" cy="1451.0" r="8.1"/><circle cx="711.9" cy="1451.0" r="8.1"/><circle cx="739.1" cy="1451.1" r="8.1"/><circle cx="766.3" cy="1451.1" r="8.1"/><circle cx="793.5" cy="1451.1" r="8.1"/><circle cx="820.7" cy="1451.1" r="8.1"/><circle cx="848.0" cy="1451.1" r="8.1"/><circle cx="875.2" cy="1451.1" r="8.1"/><circle cx="902.4" cy="1451.1" r="8.1"/><circle cx="929.6" cy="1451.2" r="8.1"/><circle cx="956.8" cy="1451.2" r="8.1"/><circle cx="984.0" cy="1451.2" r="8.1"/><circle cx="1011.2" cy="1451.3" r="8.1"/><circle cx="1038.4" cy="1451.3" r="8.1"/><circle cx="1065.6" cy="1451.4" r="8.1"/><circle cx="1092.8" cy="1451.4" r="8.1"/><circle cx="1120.0" cy="1451.5" r="8.1"/><circle cx="1147.2" cy="1451.6" r="8.1"/><circle cx="1174.4" cy="1451.7" r="8.1"/><circle cx="1201.6" cy="1451.8" r="8.1"/><circle cx="1228.8" cy="1452.0" r="8.1"/><circle cx="1256.0" cy="1452.2" r="8.1"/><circle cx="1283.2" cy="1452.4" r="8.1"/><circle cx="1310.4" cy="1452.7" r="8.1"/><circle cx="1337.6" cy="1453.0" r="8.1"/><circle cx="1364.8" cy="1453.4" r="8.1"/><circle cx="1392.0" cy="1454.0" r="8.1"/><circle cx="1419.2" cy="1454.6" r="8.1"/><circle cx="1446.4" cy="1455.5" r="8.1"/><circle cx="1473.6" cy="1457.0" r="8.1"/><circle cx="1500.8" cy="1458.0" r="8.1"/><circle cx="1528.0" cy="1459.3" r="8.1"/><circle cx="1555.2" cy="1460.8" r="8.1"/><circle cx="1582.4" cy="1462.6" r="8.1"/><circle cx="1609.6" cy="1464.7" r="8.1"/><circle cx="1636.8" cy="1467.4" r="8.1"/><circle cx="1664.1" cy="1470.6" r="8.1"/><circle cx="1691.3" cy="1474.6" r="8.1"/><circle cx="1718.5" cy="1479.5" r="8.1"/><circle cx="1745.7" cy="1485.5" r="8.1"/><circle cx="1772.9" cy="1492.6" r="8.1"/><circle cx="1800.1" cy="1502.8" r="8.1"/><circle cx="1827.3" cy="1515.8" r="8.1"/><circle cx="1854.5" cy="1532.8" r="8.1"/><circle cx="1881.7" cy="1557.0" r="8.1"/><circle cx="1908.9" cy="1590.8" r="8.1"/><circle cx="1936.1" cy="1642.2" r="8.1"/><circle cx="1963.3" cy="1730.9" r="8.1"/><circle cx="1990.5" cy="1925.5" r="8.1"/><circle cx="2017.7" cy="2506.7" r="8.1"/><circle cx="2044.9" cy="2506.7" r="8.1"/></g>
</g>
<g stroke="#000" stroke-width="2.7" fill="none">
<line x1="412.7" y1="1391.5" x2="412.7" y2="2521.9"/>
<line x1="396.2" y1="2400.6" x2="412.7" y2="2400.6"/>
<line x1="396.2" y1="2294.5" x2="412.7" y2="2294.5"/>
<line x1="396.2" y1="2188.4" x2="412.7" y2="2188.4"/>
<line x1="396.2" y1="2082.3" x2="412.7" y2="2082.3"/>
<line x1="396.2" y1="1976.2" x2="412.7" y2="1976.2"/>
<line x1="396.2" y1="1870.1" x2="412.7" y2="1870.1"/>
<line x1="396.2" y1="1764.0" x2="412.7" y2="1764.0"/>
<line x1="396.2" y1="1657.9" x2="412.7" y2="1657.9"/>
<line x1="396.2" y1="1551.8" x2="412.7" y2="1551.8"/>
<line x1="396.2" y1="1445.7" x2="412.7" y2="1445.7"/>
</g>
<g font-size="34" font-weight="bold" text-anchor="end">
<text x="386.4" y="2516.7">0</text>
<text x="386.4" y="2410.6">10</text>
<text x="386.4" y="2304.5">20</text>
<text x="386.4" y="2198.4">30</text>
<text x="386.4" y="2092.3">40</text>
<text x="386.4" y="1986.2">50</text>
<text x="386.4" y="1880.1">60</text>
<text x="386.4" y="1774.0">70</text>
<text x="386.4" y="1667.9">80</text>
<text x="386.4" y="1561.8">90</text>
<text x="386.4" y="1455.7">100</text>
</g>
<g font-size="34" font-weight="bold" text-anchor="middle">
<text x="412.7" y="2559.3">300</text>
<text x="684.7" y="2559.3">400</text>
<text x="956.8" y="2559.3">500</text>
<text x="1228.8" y="2559.3">600</text>
<text x="1500.8" y="2559.3">700</text>
<text x="1772.9" y="2559.3">800</text>
<text x="2044.9" y="2559.3">900</text>
</g>
<text font-size="41" font-weight="bold" text-anchor="middle" transform="translate(312.4,1949.4) rotate(-90)">Quantum efficiency / %</text>
<text x="507.3" y="1746.4" font-size="50" font-weight="bold">Absorber thickness</text>
<line x1="507.3" y1="1792.0" x2="622.7" y2="1792.0" stroke="#000000" stroke-width="2.7"/>
<circle cx="564.5" cy="1792.0" r="8.5" fill="#000000"/>
<text x="633.4" y="1809.2" font-size="50" font-weight="bold">200 nm</text>
<line x1="507.3" y1="1855.4" x2="622.7" y2="1855.4" stroke="#ff0000" stroke-width="3.0"/>
<circle cx="564.5" cy="1855.4" r="8.5" fill="#ff0000"/>
<text x="633.4" y="1872.6" font-size="50" font-weight="bold">300 nm</text>
<line x1="507.3" y1="1918.8" x2="622.7" y2="1918.8" stroke="#00ff00" stroke-width="3.7"/>
<circle cx="564.5" cy="1918.8" r="8.5" fill="#00ff00"/>
<text x="633.4" y="1936.0" font-size="50" font-weight="bold">400 nm</text>
<line x1="507.3" y1="1982.3" x2="622.7" y2="1982.3" stroke="#0000ff" stroke-width="2.8"/>
<circle cx="564.5" cy="1982.3" r="8.5" fill="#0000ff"/>
<text x="633.4" y="1999.5" font-size="50" font-weight="bold">500 nm</text>
<line x1="507.3" y1="2045.7" x2="622.7" y2="2045.7" stroke="#00ffff" stroke-width="3.4"/>
<circle cx="564.5" cy="2045.7" r="8.5" fill="#00ffff"/>
<text x="633.4" y="2062.9" font-size="50" font-weight="bold">600 nm</text>
<line x1="507.3" y1="2109.1" x2="622.7" y2="2109.1" stroke="#ff00ff" stroke-width="3.0"/>
<circle cx="564.5" cy="2109.1" r="8.5" fill="#ff00ff"/>
<text x="633.4" y="2126.3" font-size="50" font-weight="bold">700 nm</text>
<line x1="507.3" y1="2172.5" x2="622.7" y2="2172.5" stroke="#ffff00" stroke-width="3.2"/>
<circle cx="564.5" cy="2172.5" r="8.5" fill="#ffff00"/>
<text x="633.4" y="2189.7" font-size="50" font-weight="bold">800 nm</text>
<line x1="507.3" y1="2235.9" x2="622.7" y2="2235.9" stroke="#808000" stroke-width="2.8"/>
<circle cx="564.5" cy="2235.9" r="8.5" fill="#808000"/>
<text x="633.4" y="2253.1" font-size="50" font-weight="bold">900 nm</text>
<line x1="507.3" y1="2299.4" x2="622.7" y2="2299.4" stroke="#000080" stroke-width="2.7"/>
<circle cx="564.5" cy="2299.4" r="8.5" fill="#000080"/>
<text x="633.4" y="2316.6" font-size="50" font-weight="bold">1000 nm</text>
<rect x="1022.8" y="1322.0" width="453.5" height="95.5" fill="#000"/>
<rect x="1013.3" y="1313.0" width="453.5" height="95.0" fill="#fff" stroke="#8c8c8c" stroke-width="2"/>
<g font-size="60" font-weight="bold"><text x="1019.3" y="1376.4">Zn</text><text x="1093.8" y="1391.8" font-size="38" textLength="56.6" lengthAdjust="spacingAndGlyphs">0.7</text><text x="1150.0" y="1376.4" textLength="82.4" lengthAdjust="spacingAndGlyphs">Mg</text><text x="1235.8" y="1391.8" font-size="38" textLength="55.8" lengthAdjust="spacingAndGlyphs">0.3</text><text x="1293.0" y="1376.4" textLength="43.5" lengthAdjust="spacingAndGlyphs">O</text><text x="1349.6" y="1376.4" textLength="110.3" lengthAdjust="spacingAndGlyphs">ETL</text></g>
<text x="1296.4" y="2625.5" font-size="41" font-weight="bold" text-anchor="middle">Wavelength / nm</text>
<g font-family="'Liberation Serif', 'DejaVu Serif', serif"><text transform="translate(23.7,671.6) scale(0.89,1)" font-size="86.5">(</text><text transform="translate(50.1,671.6) scale(0.974,1)" font-size="85.4" font-weight="bold">a</text><text transform="translate(92.5,671.6) scale(0.89,1)" font-size="86.5">)</text><text transform="translate(19.9,2034.8) scale(0.89,1)" font-size="86.5">(</text><text transform="translate(46.0,2034.8) scale(1.0,1)" font-size="90" font-weight="bold">b</text><text transform="translate(97.8,2034.8) scale(0.89,1)" font-size="86.5">)</text></g>
</svg>
</body></html>
